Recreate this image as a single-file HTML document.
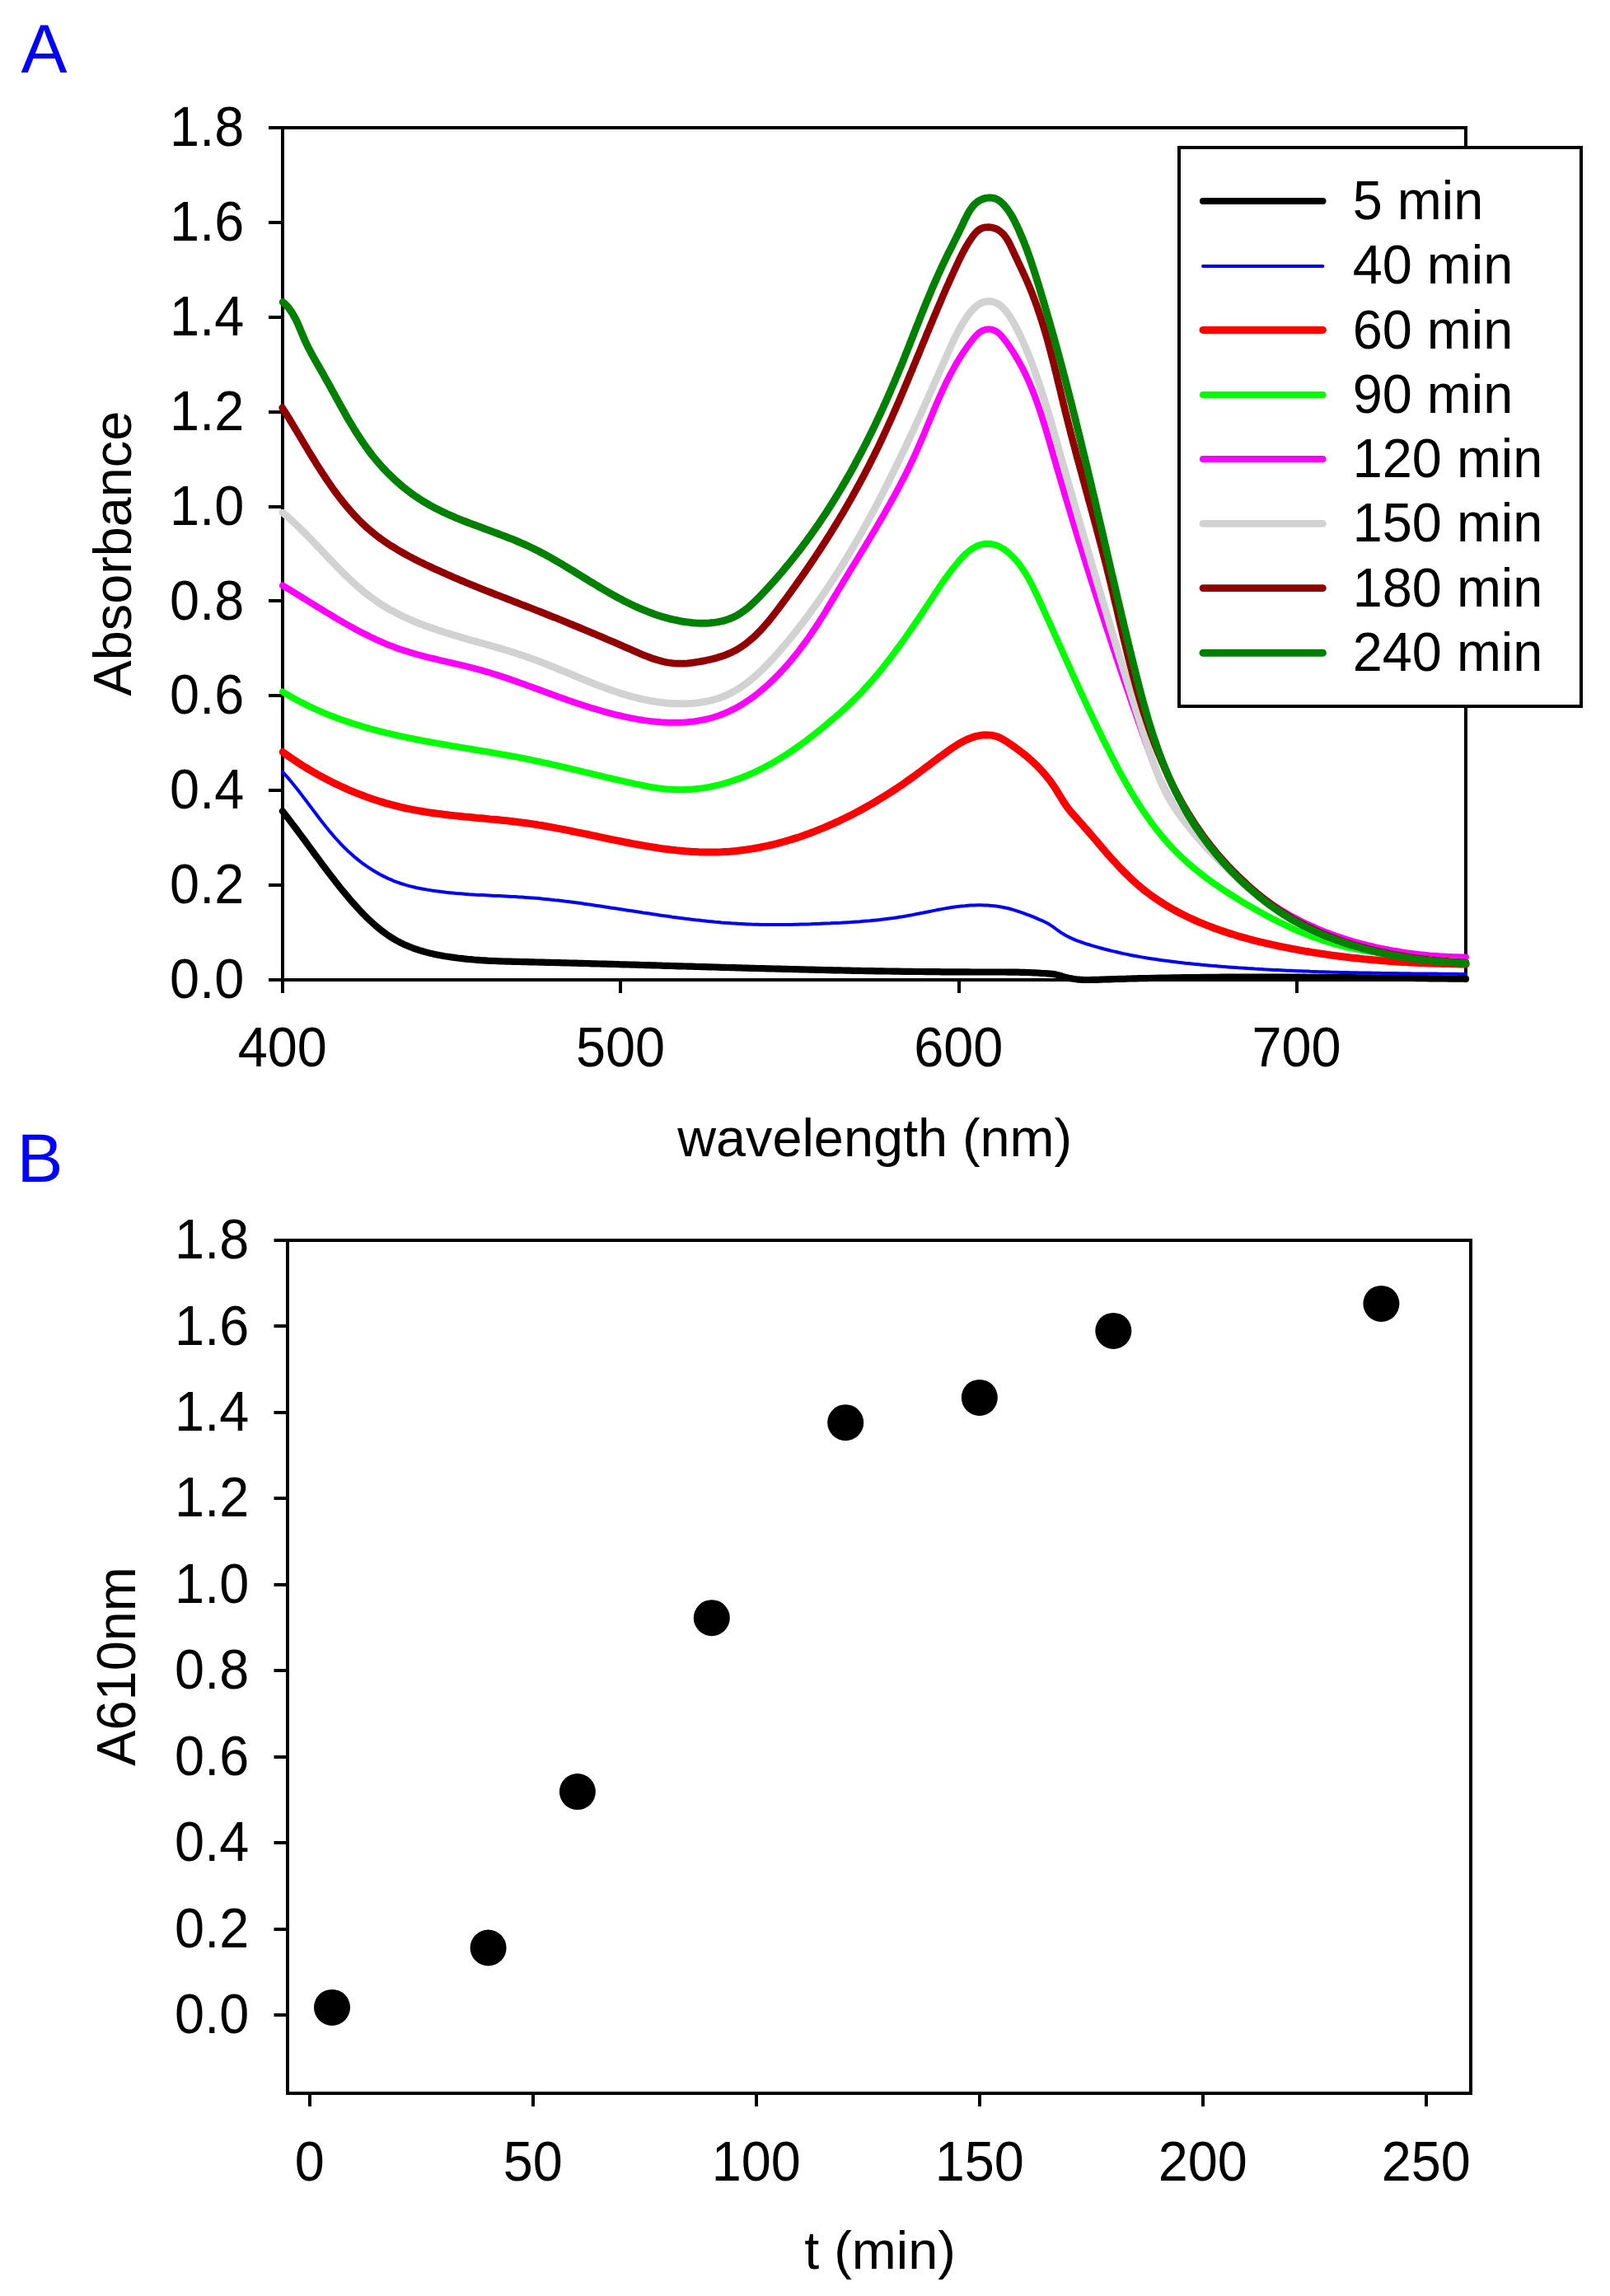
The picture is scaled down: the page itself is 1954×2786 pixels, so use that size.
<!DOCTYPE html>
<html lang="en"><head><meta charset="utf-8"><title>Figure</title>
<style>html,body{margin:0;padding:0;background:#fff}svg{display:block}</style></head>
<body>
<svg width="1954" height="2786" viewBox="0 0 1954 2786" font-family='&quot;Liberation Sans&quot;, sans-serif' font-size="64.8" fill="#000">
<rect width="1954" height="2786" fill="#fff"/>
<text x="25.6" y="87.8" font-size="84" fill="#0000ff">A</text>
<g stroke="#000" stroke-width="4" fill="none" stroke-linecap="butt">
<rect x="343" y="155" width="1436" height="1034"/>
<line x1="326" y1="1189" x2="343" y2="1189"/>
<line x1="326" y1="1074" x2="343" y2="1074"/>
<line x1="326" y1="959" x2="343" y2="959"/>
<line x1="326" y1="844" x2="343" y2="844"/>
<line x1="326" y1="729" x2="343" y2="729"/>
<line x1="326" y1="615" x2="343" y2="615"/>
<line x1="326" y1="500" x2="343" y2="500"/>
<line x1="326" y1="385" x2="343" y2="385"/>
<line x1="326" y1="270" x2="343" y2="270"/>
<line x1="326" y1="155" x2="343" y2="155"/>
<line x1="343" y1="1189" x2="343" y2="1205"/>
<line x1="753" y1="1189" x2="753" y2="1205"/>
<line x1="1164" y1="1189" x2="1164" y2="1205"/>
<line x1="1574" y1="1189" x2="1574" y2="1205"/>
</g>
<text transform="translate(296.2 1211.1) scale(1 1.045)" text-anchor="end">0.0</text>
<text transform="translate(296.2 1096.2) scale(1 1.045)" text-anchor="end">0.2</text>
<text transform="translate(296.2 981.3) scale(1 1.045)" text-anchor="end">0.4</text>
<text transform="translate(296.2 866.4) scale(1 1.045)" text-anchor="end">0.6</text>
<text transform="translate(296.2 751.5) scale(1 1.045)" text-anchor="end">0.8</text>
<text transform="translate(296.2 636.7) scale(1 1.045)" text-anchor="end">1.0</text>
<text transform="translate(296.2 521.8) scale(1 1.045)" text-anchor="end">1.2</text>
<text transform="translate(296.2 406.9) scale(1 1.045)" text-anchor="end">1.4</text>
<text transform="translate(296.2 292.0) scale(1 1.045)" text-anchor="end">1.6</text>
<text transform="translate(296.2 177.1) scale(1 1.045)" text-anchor="end">1.8</text>
<text transform="translate(342.7 1293.8) scale(1 1.045)" text-anchor="middle">400</text>
<text transform="translate(753.0 1293.8) scale(1 1.045)" text-anchor="middle">500</text>
<text transform="translate(1163.3 1293.8) scale(1 1.045)" text-anchor="middle">600</text>
<text transform="translate(1573.6 1293.8) scale(1 1.045)" text-anchor="middle">700</text>
<text x="1061.7" y="1402.6" text-anchor="middle">wavelength (nm)</text>
<text transform="translate(158.5 671.6) rotate(-90)" text-anchor="middle">Absorbance</text>
<g fill="none" stroke-linecap="round" stroke-linejoin="round">
<path stroke="#000000" stroke-width="8.2" d="M342.9 984.2L345.3 987.4L347.8 990.5L350.3 993.7L352.7 996.9L355.1 1000.1L357.5 1003.3L359.9 1006.5L362.3 1009.7L364.7 1012.9L367.1 1016.1L369.5 1019.3L371.8 1022.5L374.2 1025.8L376.6 1029.0L378.9 1032.2L381.3 1035.5L383.7 1038.7L386.1 1041.9L388.5 1045.1L390.8 1048.3L393.2 1051.5L395.6 1054.7L398.1 1057.9L400.5 1061.1L402.9 1064.3L405.4 1067.4L407.8 1070.6L410.3 1073.7L412.8 1076.9L415.3 1080.0L417.9 1083.1L420.4 1086.1L423.0 1089.2L425.6 1092.3L428.2 1095.3L430.9 1098.3L433.6 1101.3L436.3 1104.2L439.0 1107.1L441.8 1110.0L444.6 1112.8L447.5 1115.6L450.4 1118.3L453.4 1121.0L456.4 1123.7L459.5 1126.2L462.6 1128.7L465.8 1131.2L469.0 1133.5L472.3 1135.8L475.7 1138.0L479.1 1140.1L482.6 1142.0L486.1 1143.9L489.7 1145.7L493.4 1147.3L497.0 1148.8L500.8 1150.3L504.6 1151.6L508.4 1152.9L512.2 1154.0L516.0 1155.1L519.9 1156.1L523.8 1157.1L527.7 1157.9L531.6 1158.7L535.6 1159.5L539.5 1160.2L543.5 1160.8L547.4 1161.4L551.4 1161.9L555.4 1162.5L559.3 1162.9L563.3 1163.4L567.3 1163.8L571.3 1164.1L575.3 1164.5L579.3 1164.8L583.2 1165.1L587.2 1165.3L591.2 1165.6L595.2 1165.8L599.2 1166.0L603.2 1166.2L607.2 1166.3L611.2 1166.5L615.2 1166.6L619.2 1166.7L623.2 1166.8L627.2 1166.9L631.2 1167.0L635.2 1167.1L639.2 1167.2L643.2 1167.3L647.2 1167.4L651.2 1167.5L655.2 1167.6L659.3 1167.7L663.3 1167.8L667.3 1167.9L671.3 1168.0L675.3 1168.1L679.3 1168.2L683.3 1168.3L687.3 1168.4L691.3 1168.5L695.3 1168.6L699.3 1168.7L703.3 1168.8L707.3 1168.9L711.3 1169.0L715.3 1169.1L719.3 1169.3L723.3 1169.4L727.3 1169.5L731.3 1169.6L735.3 1169.7L739.3 1169.8L743.3 1169.9L747.3 1170.0L751.3 1170.2L755.3 1170.3L759.3 1170.4L763.3 1170.5L767.3 1170.6L771.3 1170.7L775.3 1170.8L779.3 1171.0L783.3 1171.1L787.3 1171.2L791.3 1171.3L795.3 1171.4L799.3 1171.5L803.3 1171.7L807.3 1171.8L811.3 1171.9L815.3 1172.0L819.3 1172.1L823.3 1172.3L827.3 1172.4L831.3 1172.5L835.3 1172.6L839.3 1172.7L843.3 1172.8L847.3 1173.0L851.3 1173.1L855.3 1173.2L859.3 1173.3L863.3 1173.4L867.3 1173.5L871.3 1173.6L875.3 1173.8L879.3 1173.9L883.3 1174.0L887.3 1174.1L891.3 1174.2L895.3 1174.3L899.3 1174.4L903.3 1174.6L907.3 1174.7L911.3 1174.8L915.3 1174.9L919.3 1175.0L923.3 1175.1L927.3 1175.2L931.3 1175.3L935.3 1175.4L939.3 1175.5L943.3 1175.6L947.3 1175.7L951.3 1175.8L955.3 1175.9L959.3 1176.0L963.3 1176.1L967.4 1176.2L971.4 1176.3L975.4 1176.4L979.4 1176.5L983.4 1176.6L987.4 1176.7L991.4 1176.8L995.4 1176.9L999.4 1177.0L1003.4 1177.1L1007.4 1177.2L1011.4 1177.3L1015.4 1177.3L1019.4 1177.4L1023.4 1177.5L1027.4 1177.6L1031.4 1177.7L1035.4 1177.8L1039.4 1177.8L1043.4 1177.9L1047.4 1178.0L1051.4 1178.1L1055.4 1178.1L1059.4 1178.2L1063.4 1178.3L1067.4 1178.3L1071.4 1178.4L1075.4 1178.5L1079.4 1178.5L1083.4 1178.6L1087.4 1178.6L1091.4 1178.7L1095.4 1178.8L1099.4 1178.8L1103.4 1178.9L1107.4 1178.9L1111.4 1179.0L1115.4 1179.0L1119.4 1179.0L1123.4 1179.1L1127.4 1179.1L1131.4 1179.2L1135.4 1179.2L1139.4 1179.2L1143.4 1179.3L1147.4 1179.3L1151.5 1179.3L1155.5 1179.4L1159.5 1179.4L1163.5 1179.4L1167.5 1179.4L1171.5 1179.4L1175.5 1179.4L1179.5 1179.5L1183.5 1179.5L1187.5 1179.5L1191.5 1179.5L1195.5 1179.5L1199.5 1179.5L1203.5 1179.5L1207.5 1179.5L1211.5 1179.5L1215.5 1179.5L1219.5 1179.5L1223.5 1179.6L1227.5 1179.6L1231.5 1179.7L1235.5 1179.7L1239.5 1179.8L1243.5 1179.9L1247.5 1180.0L1251.5 1180.2L1255.5 1180.3L1259.5 1180.5L1263.5 1180.8L1267.5 1181.0L1271.5 1181.3L1275.5 1181.6L1279.5 1182.1L1283.4 1183.0L1287.2 1184.0L1291.1 1185.1L1295.0 1186.1L1298.8 1187.1L1302.8 1187.8L1306.8 1188.3L1310.7 1188.7L1314.7 1188.9L1318.7 1189.0L1322.7 1189.0L1326.7 1188.9L1330.7 1188.8L1334.7 1188.7L1338.7 1188.5L1342.7 1188.4L1346.7 1188.3L1350.7 1188.1L1354.7 1188.0L1358.7 1187.9L1362.7 1187.8L1366.7 1187.7L1370.8 1187.5L1374.8 1187.4L1378.8 1187.3L1382.8 1187.2L1386.8 1187.1L1390.8 1187.1L1394.8 1187.0L1398.8 1186.9L1402.8 1186.8L1406.8 1186.7L1410.8 1186.6L1414.8 1186.6L1418.8 1186.5L1422.8 1186.4L1426.8 1186.4L1430.8 1186.3L1434.8 1186.2L1438.8 1186.2L1442.8 1186.1L1446.8 1186.1L1450.8 1186.0L1454.8 1186.0L1458.8 1185.9L1462.8 1185.9L1466.8 1185.9L1470.8 1185.8L1474.8 1185.8L1478.8 1185.8L1482.8 1185.7L1486.8 1185.7L1490.8 1185.7L1494.8 1185.7L1498.8 1185.7L1502.8 1185.6L1506.8 1185.6L1510.8 1185.6L1514.8 1185.6L1518.8 1185.6L1522.8 1185.6L1526.8 1185.6L1530.8 1185.6L1534.8 1185.6L1538.9 1185.6L1542.9 1185.6L1546.9 1185.6L1550.9 1185.6L1554.9 1185.6L1558.9 1185.6L1562.9 1185.7L1566.9 1185.7L1570.9 1185.7L1574.9 1185.7L1578.9 1185.7L1582.9 1185.7L1586.9 1185.8L1590.9 1185.8L1594.9 1185.8L1598.9 1185.8L1602.9 1185.9L1606.9 1185.9L1610.9 1185.9L1614.9 1186.0L1618.9 1186.0L1622.9 1186.0L1626.9 1186.1L1630.9 1186.1L1634.9 1186.1L1638.9 1186.2L1642.9 1186.2L1646.9 1186.3L1650.9 1186.3L1654.9 1186.3L1658.9 1186.4L1662.9 1186.4L1666.9 1186.5L1670.9 1186.5L1674.9 1186.5L1678.9 1186.6L1683.0 1186.6L1687.0 1186.7L1691.0 1186.7L1695.0 1186.8L1699.0 1186.8L1703.0 1186.9L1707.0 1186.9L1711.0 1187.0L1715.0 1187.0L1719.0 1187.1L1723.0 1187.1L1727.0 1187.2L1731.0 1187.2L1735.0 1187.3L1739.0 1187.3L1743.0 1187.4L1747.0 1187.4L1751.0 1187.5L1755.0 1187.5L1759.0 1187.6L1763.0 1187.6L1767.0 1187.7L1771.0 1187.7L1775.0 1187.7L1779.0 1187.8"/>
<path stroke="#0000ff" stroke-width="4" d="M343.0 936.6L345.7 939.6L348.4 942.6L351.0 945.6L353.6 948.7L356.1 951.8L358.6 954.9L361.1 958.1L363.6 961.2L366.0 964.4L368.4 967.6L370.9 970.8L373.3 974.0L375.7 977.2L378.1 980.4L380.5 983.6L382.9 986.8L385.3 990.0L387.8 993.2L390.2 996.4L392.7 999.5L395.2 1002.7L397.7 1005.8L400.2 1008.9L402.8 1011.9L405.4 1015.0L408.1 1018.0L410.8 1020.9L413.5 1023.9L416.3 1026.8L419.1 1029.6L422.0 1032.4L425.0 1035.1L428.0 1037.8L431.0 1040.4L434.1 1042.9L437.2 1045.4L440.4 1047.8L443.7 1050.2L447.0 1052.4L450.4 1054.6L453.8 1056.8L457.2 1058.8L460.7 1060.8L464.2 1062.6L467.8 1064.4L471.4 1066.1L475.1 1067.7L478.8 1069.3L482.6 1070.7L486.4 1072.0L490.2 1073.2L494.0 1074.3L497.9 1075.4L501.8 1076.3L505.7 1077.2L509.6 1078.0L513.6 1078.7L517.5 1079.4L521.5 1080.1L525.4 1080.7L529.4 1081.3L533.4 1081.8L537.4 1082.3L541.3 1082.8L545.3 1083.2L549.3 1083.6L553.3 1084.0L557.3 1084.3L561.3 1084.6L565.3 1084.9L569.3 1085.2L573.3 1085.4L577.3 1085.7L581.3 1085.9L585.3 1086.1L589.3 1086.3L593.3 1086.5L597.3 1086.7L601.3 1086.9L605.3 1087.1L609.3 1087.3L613.3 1087.5L617.3 1087.7L621.3 1087.9L625.3 1088.1L629.3 1088.4L633.3 1088.6L637.3 1088.9L641.3 1089.2L645.3 1089.5L649.3 1089.8L653.3 1090.1L657.3 1090.5L661.3 1090.9L665.3 1091.3L669.3 1091.7L673.3 1092.2L677.2 1092.6L681.2 1093.1L685.2 1093.6L689.2 1094.0L693.2 1094.6L697.1 1095.1L701.1 1095.6L705.1 1096.1L709.1 1096.7L713.0 1097.3L717.0 1097.8L721.0 1098.4L724.9 1099.0L728.9 1099.6L732.9 1100.2L736.8 1100.8L740.8 1101.4L744.7 1102.0L748.7 1102.6L752.7 1103.2L756.6 1103.8L760.6 1104.4L764.6 1105.0L768.5 1105.6L772.5 1106.2L776.4 1106.8L780.4 1107.5L784.4 1108.1L788.3 1108.6L792.3 1109.2L796.3 1109.8L800.2 1110.4L804.2 1111.0L808.2 1111.5L812.1 1112.1L816.1 1112.7L820.1 1113.2L824.0 1113.7L828.0 1114.2L832.0 1114.7L836.0 1115.2L840.0 1115.7L843.9 1116.2L847.9 1116.6L851.9 1117.1L855.9 1117.5L859.9 1117.9L863.9 1118.3L867.9 1118.7L871.9 1119.0L875.8 1119.4L879.8 1119.7L883.8 1120.0L887.8 1120.3L891.8 1120.5L895.8 1120.8L899.8 1121.0L903.8 1121.2L907.8 1121.4L911.9 1121.6L915.9 1121.7L919.9 1121.8L923.9 1121.9L927.9 1122.0L931.9 1122.0L935.9 1122.1L939.9 1122.1L943.9 1122.1L947.9 1122.1L951.9 1122.0L955.9 1122.0L959.9 1121.9L964.0 1121.8L968.0 1121.8L972.0 1121.6L976.0 1121.5L980.0 1121.4L984.0 1121.3L988.0 1121.1L992.0 1121.0L996.0 1120.8L1000.0 1120.6L1004.0 1120.4L1008.0 1120.3L1012.0 1120.1L1016.0 1119.9L1020.0 1119.7L1024.0 1119.4L1028.0 1119.2L1032.0 1119.0L1036.0 1118.7L1040.0 1118.4L1044.0 1118.2L1048.0 1117.8L1052.0 1117.5L1056.0 1117.2L1060.0 1116.8L1064.0 1116.4L1068.0 1116.0L1072.0 1115.5L1075.9 1115.0L1079.9 1114.5L1083.9 1114.0L1087.9 1113.4L1091.8 1112.8L1095.8 1112.2L1099.7 1111.5L1103.7 1110.8L1107.6 1110.1L1111.6 1109.3L1115.5 1108.5L1119.4 1107.8L1123.3 1107.0L1127.3 1106.2L1131.2 1105.4L1135.1 1104.6L1139.1 1103.8L1143.0 1103.1L1147.0 1102.4L1150.9 1101.7L1154.9 1101.1L1158.8 1100.5L1162.8 1100.0L1166.8 1099.5L1170.8 1099.2L1174.8 1098.8L1178.8 1098.6L1182.8 1098.4L1186.8 1098.3L1190.8 1098.3L1194.8 1098.4L1198.8 1098.6L1202.8 1098.9L1206.8 1099.3L1210.8 1099.8L1214.7 1100.4L1218.7 1101.2L1222.6 1102.0L1226.5 1103.0L1230.3 1104.1L1234.2 1105.3L1238.0 1106.6L1241.8 1107.9L1245.5 1109.3L1249.2 1110.7L1253.0 1112.2L1256.7 1113.7L1260.4 1115.3L1264.1 1116.8L1267.7 1118.5L1271.3 1120.3L1274.7 1122.4L1278.1 1124.6L1281.3 1127.0L1284.5 1129.3L1287.8 1131.6L1291.2 1133.8L1294.7 1135.7L1298.3 1137.6L1301.9 1139.2L1305.6 1140.8L1309.4 1142.2L1313.2 1143.5L1317.0 1144.8L1320.8 1146.0L1324.6 1147.2L1328.5 1148.3L1332.3 1149.4L1336.2 1150.5L1340.0 1151.5L1343.9 1152.5L1347.8 1153.5L1351.7 1154.4L1355.6 1155.3L1359.5 1156.2L1363.4 1157.1L1367.4 1157.9L1371.3 1158.7L1375.2 1159.5L1379.2 1160.2L1383.1 1160.9L1387.1 1161.6L1391.0 1162.3L1395.0 1162.9L1398.9 1163.5L1402.9 1164.1L1406.9 1164.7L1410.8 1165.3L1414.8 1165.8L1418.8 1166.3L1422.7 1166.8L1426.7 1167.3L1430.7 1167.8L1434.7 1168.2L1438.7 1168.7L1442.7 1169.1L1446.6 1169.5L1450.6 1169.9L1454.6 1170.3L1458.6 1170.7L1462.6 1171.1L1466.6 1171.4L1470.6 1171.8L1474.6 1172.1L1478.6 1172.4L1482.6 1172.8L1486.6 1173.1L1490.6 1173.4L1494.6 1173.7L1498.6 1174.0L1502.6 1174.3L1506.6 1174.5L1510.6 1174.8L1514.6 1175.1L1518.6 1175.3L1522.6 1175.6L1526.6 1175.8L1530.6 1176.0L1534.6 1176.3L1538.6 1176.5L1542.6 1176.7L1546.6 1176.9L1550.6 1177.1L1554.6 1177.3L1558.6 1177.5L1562.6 1177.7L1566.6 1177.8L1570.6 1178.0L1574.6 1178.2L1578.6 1178.3L1582.6 1178.5L1586.6 1178.6L1590.6 1178.8L1594.6 1178.9L1598.6 1179.1L1602.7 1179.2L1606.7 1179.3L1610.7 1179.4L1614.7 1179.6L1618.7 1179.7L1622.7 1179.8L1626.7 1179.9L1630.7 1180.0L1634.7 1180.1L1638.7 1180.2L1642.7 1180.2L1646.7 1180.3L1650.7 1180.4L1654.7 1180.5L1658.8 1180.6L1662.8 1180.6L1666.8 1180.7L1670.8 1180.8L1674.8 1180.8L1678.8 1180.9L1682.8 1181.0L1686.8 1181.0L1690.8 1181.1L1694.8 1181.1L1698.8 1181.2L1702.8 1181.2L1706.9 1181.3L1710.9 1181.3L1714.9 1181.4L1718.9 1181.4L1722.9 1181.4L1726.9 1181.5L1730.9 1181.5L1734.9 1181.6L1738.9 1181.6L1742.9 1181.6L1746.9 1181.7L1750.9 1181.7L1755.0 1181.7L1759.0 1181.8L1763.0 1181.8L1767.0 1181.8L1771.0 1181.9L1775.0 1181.9L1779.0 1182.0"/>
<path stroke="#ff0000" stroke-width="9" d="M343.2 912.5L346.4 914.9L349.7 917.2L352.9 919.5L356.3 921.7L359.6 924.0L362.9 926.2L366.3 928.3L369.7 930.5L373.1 932.5L376.6 934.6L380.0 936.6L383.5 938.6L387.0 940.6L390.5 942.5L394.0 944.4L397.6 946.3L401.2 948.1L404.7 949.9L408.4 951.6L412.0 953.3L415.6 955.0L419.3 956.7L422.9 958.3L426.6 959.8L430.3 961.4L434.0 962.9L437.8 964.3L441.5 965.7L445.3 967.1L449.1 968.5L452.8 969.8L456.6 971.0L460.5 972.2L464.3 973.4L468.1 974.6L472.0 975.7L475.8 976.7L479.7 977.7L483.6 978.7L487.5 979.6L491.4 980.5L495.3 981.3L499.3 982.1L503.2 982.9L507.1 983.6L511.1 984.3L515.0 985.0L519.0 985.6L523.0 986.2L526.9 986.7L530.9 987.3L534.9 987.8L538.8 988.3L542.8 988.7L546.8 989.2L550.8 989.6L554.8 990.1L558.8 990.5L562.8 990.9L566.7 991.2L570.7 991.6L574.7 992.0L578.7 992.4L582.7 992.7L586.7 993.1L590.7 993.5L594.7 993.9L598.7 994.2L602.6 994.6L606.6 995.0L610.6 995.4L614.6 995.8L618.6 996.3L622.6 996.7L626.5 997.2L630.5 997.7L634.5 998.2L638.5 998.8L642.4 999.3L646.4 999.9L650.4 1000.5L654.3 1001.1L658.3 1001.8L662.2 1002.5L666.2 1003.2L670.1 1003.9L674.0 1004.6L678.0 1005.4L681.9 1006.1L685.8 1006.9L689.8 1007.7L693.7 1008.5L697.6 1009.3L701.5 1010.1L705.5 1010.9L709.4 1011.7L713.3 1012.5L717.2 1013.4L721.2 1014.2L725.1 1015.0L729.0 1015.8L732.9 1016.7L736.8 1017.5L740.8 1018.3L744.7 1019.1L748.6 1019.9L752.5 1020.7L756.5 1021.5L760.4 1022.3L764.3 1023.0L768.3 1023.8L772.2 1024.5L776.2 1025.2L780.1 1025.9L784.0 1026.6L788.0 1027.3L792.0 1027.9L795.9 1028.5L799.9 1029.1L803.8 1029.7L807.8 1030.2L811.8 1030.7L815.8 1031.2L819.7 1031.6L823.7 1032.1L827.7 1032.4L831.7 1032.8L835.7 1033.1L839.7 1033.4L843.7 1033.6L847.7 1033.8L851.7 1033.9L855.7 1034.0L859.7 1034.1L863.7 1034.1L867.7 1034.0L871.7 1033.9L875.7 1033.8L879.7 1033.6L883.7 1033.4L887.7 1033.1L891.7 1032.7L895.7 1032.3L899.7 1031.8L903.7 1031.3L907.6 1030.8L911.6 1030.1L915.5 1029.5L919.5 1028.8L923.4 1028.0L927.4 1027.2L931.3 1026.4L935.2 1025.5L939.1 1024.6L943.0 1023.6L946.8 1022.6L950.7 1021.5L954.6 1020.4L958.4 1019.3L962.2 1018.1L966.0 1016.9L969.9 1015.7L973.6 1014.4L977.4 1013.0L981.2 1011.7L985.0 1010.3L988.7 1008.9L992.4 1007.4L996.1 1005.9L999.9 1004.4L1003.5 1002.8L1007.2 1001.2L1010.9 999.6L1014.5 997.9L1018.2 996.3L1021.8 994.5L1025.4 992.8L1029.0 991.0L1032.6 989.2L1036.1 987.4L1039.7 985.5L1043.2 983.7L1046.7 981.8L1050.3 979.8L1053.7 977.9L1057.2 975.9L1060.7 973.9L1064.1 971.8L1067.6 969.7L1071.0 967.7L1074.4 965.5L1077.8 963.4L1081.2 961.2L1084.5 959.1L1087.9 956.9L1091.2 954.6L1094.5 952.4L1097.8 950.1L1101.1 947.8L1104.3 945.5L1107.6 943.1L1110.8 940.8L1114.1 938.4L1117.3 936.0L1120.5 933.6L1123.7 931.2L1126.9 928.8L1130.1 926.4L1133.3 924.0L1136.5 921.6L1139.7 919.2L1143.0 916.8L1146.2 914.5L1149.4 912.1L1152.7 909.8L1156.0 907.5L1159.4 905.3L1162.7 903.2L1166.2 901.2L1169.7 899.3L1173.3 897.5L1177.0 895.9L1180.8 894.6L1184.6 893.4L1188.5 892.6L1192.5 892.0L1196.5 891.8L1200.5 891.9L1204.5 892.4L1208.4 893.3L1212.2 894.6L1215.8 896.3L1219.2 898.3L1222.6 900.5L1225.9 902.7L1229.2 905.0L1232.5 907.3L1235.7 909.7L1238.9 912.1L1242.1 914.6L1245.2 917.1L1248.3 919.7L1251.3 922.3L1254.2 925.0L1257.1 927.8L1260.0 930.6L1262.7 933.5L1265.4 936.5L1268.1 939.5L1270.6 942.6L1273.1 945.7L1275.5 948.9L1277.8 952.2L1280.1 955.5L1282.2 958.9L1284.3 962.3L1286.4 965.7L1288.5 969.2L1290.6 972.5L1292.8 975.9L1295.1 979.2L1297.5 982.4L1300.0 985.5L1302.7 988.5L1305.4 991.5L1308.1 994.5L1310.7 997.4L1313.4 1000.4L1316.0 1003.5L1318.7 1006.5L1321.3 1009.5L1323.9 1012.6L1326.5 1015.6L1329.1 1018.6L1331.7 1021.7L1334.3 1024.7L1336.9 1027.8L1339.5 1030.8L1342.1 1033.9L1344.8 1036.9L1347.4 1039.9L1350.1 1042.9L1352.8 1045.8L1355.5 1048.8L1358.2 1051.7L1361.0 1054.6L1363.8 1057.5L1366.6 1060.3L1369.5 1063.1L1372.3 1065.9L1375.3 1068.6L1378.3 1071.3L1381.3 1074.0L1384.3 1076.5L1387.4 1079.1L1390.6 1081.6L1393.8 1084.0L1397.0 1086.4L1400.3 1088.7L1403.6 1091.0L1406.9 1093.2L1410.3 1095.4L1413.6 1097.5L1417.1 1099.6L1420.5 1101.6L1424.0 1103.6L1427.5 1105.5L1431.1 1107.4L1434.6 1109.2L1438.2 1111.0L1441.8 1112.8L1445.4 1114.5L1449.1 1116.2L1452.7 1117.8L1456.4 1119.4L1460.1 1120.9L1463.8 1122.4L1467.6 1123.9L1471.3 1125.3L1475.1 1126.7L1478.8 1128.0L1482.6 1129.4L1486.4 1130.6L1490.2 1131.9L1494.0 1133.1L1497.9 1134.3L1501.7 1135.5L1505.5 1136.6L1509.4 1137.7L1513.3 1138.7L1517.1 1139.8L1521.0 1140.8L1524.9 1141.8L1528.8 1142.8L1532.7 1143.7L1536.6 1144.6L1540.5 1145.5L1544.4 1146.4L1548.3 1147.2L1552.2 1148.1L1556.1 1148.9L1560.1 1149.7L1564.0 1150.4L1567.9 1151.2L1571.9 1151.9L1575.8 1152.7L1579.8 1153.4L1583.7 1154.1L1587.7 1154.7L1591.6 1155.4L1595.6 1156.0L1599.5 1156.6L1603.5 1157.3L1607.4 1157.8L1611.4 1158.4L1615.4 1159.0L1619.4 1159.5L1623.3 1160.0L1627.3 1160.5L1631.3 1161.0L1635.3 1161.5L1639.2 1162.0L1643.2 1162.4L1647.2 1162.8L1651.2 1163.3L1655.2 1163.7L1659.2 1164.0L1663.1 1164.4L1667.1 1164.8L1671.1 1165.1L1675.1 1165.5L1679.1 1165.8L1683.1 1166.1L1687.1 1166.4L1691.1 1166.6L1695.1 1166.9L1699.1 1167.2L1703.1 1167.4L1707.1 1167.6L1711.1 1167.9L1715.1 1168.1L1719.1 1168.3L1723.1 1168.4L1727.1 1168.6L1731.1 1168.8L1735.1 1168.9L1739.1 1169.1L1743.1 1169.2L1747.1 1169.3L1751.1 1169.4L1755.1 1169.5L1759.1 1169.6L1763.2 1169.7L1767.2 1169.8L1771.2 1169.9L1775.2 1169.9L1779.2 1170.0"/>
<path stroke="#00ff00" stroke-width="8" d="M343.0 839.4L346.5 841.5L349.9 843.5L353.4 845.5L356.9 847.5L360.4 849.4L363.9 851.3L367.5 853.1L371.0 854.9L374.6 856.7L378.2 858.4L381.9 860.1L385.5 861.7L389.2 863.3L392.9 864.9L396.6 866.4L400.3 867.9L404.0 869.3L407.7 870.8L411.5 872.2L415.3 873.5L419.0 874.8L422.8 876.1L426.6 877.4L430.4 878.6L434.3 879.8L438.1 880.9L441.9 882.1L445.8 883.2L449.6 884.3L453.5 885.3L457.3 886.3L461.2 887.3L465.1 888.3L469.0 889.3L472.9 890.2L476.8 891.1L480.7 892.0L484.6 892.9L488.5 893.7L492.4 894.6L496.3 895.4L500.2 896.2L504.2 897.0L508.1 897.7L512.0 898.5L515.9 899.2L519.9 900.0L523.8 900.7L527.7 901.4L531.7 902.1L535.6 902.8L539.6 903.5L543.5 904.2L547.4 904.9L551.4 905.5L555.3 906.2L559.3 906.9L563.2 907.5L567.2 908.2L571.1 908.8L575.1 909.5L579.0 910.2L583.0 910.8L586.9 911.5L590.9 912.1L594.8 912.8L598.7 913.5L602.7 914.2L606.6 914.9L610.6 915.6L614.5 916.3L618.4 917.0L622.4 917.7L626.3 918.4L630.2 919.2L634.2 919.9L638.1 920.7L642.0 921.5L645.9 922.3L649.8 923.1L653.8 924.0L657.7 924.8L661.6 925.7L665.5 926.5L669.4 927.4L673.3 928.3L677.2 929.2L681.1 930.1L685.0 931.0L688.9 931.9L692.8 932.8L696.7 933.8L700.6 934.7L704.4 935.6L708.3 936.5L712.2 937.5L716.1 938.4L720.0 939.4L723.9 940.3L727.8 941.2L731.7 942.1L735.6 943.1L739.5 944.0L743.4 944.9L747.3 945.8L751.2 946.7L755.1 947.6L759.0 948.5L762.9 949.4L766.8 950.2L770.7 951.1L774.6 951.9L778.5 952.7L782.4 953.5L786.4 954.3L790.3 955.0L794.2 955.6L798.2 956.2L802.2 956.7L806.1 957.2L810.1 957.6L814.1 957.9L818.1 958.1L822.1 958.3L826.1 958.3L830.1 958.3L834.1 958.1L838.1 957.9L842.1 957.5L846.1 957.1L850.0 956.6L854.0 956.1L857.9 955.4L861.9 954.7L865.8 953.9L869.7 953.0L873.6 952.0L877.4 951.0L881.3 949.9L885.1 948.8L888.9 947.5L892.7 946.2L896.5 944.9L900.2 943.5L904.0 942.0L907.7 940.5L911.3 938.9L915.0 937.3L918.6 935.6L922.2 933.8L925.8 932.0L929.3 930.2L932.9 928.3L936.4 926.4L939.8 924.4L943.3 922.4L946.7 920.3L950.1 918.2L953.5 916.1L956.8 913.9L960.2 911.7L963.5 909.4L966.8 907.1L970.0 904.8L973.3 902.5L976.5 900.1L979.7 897.7L982.9 895.3L986.1 892.8L989.2 890.4L992.3 887.9L995.5 885.4L998.6 882.9L1001.7 880.3L1004.7 877.7L1007.8 875.2L1010.8 872.6L1013.9 870.0L1016.9 867.3L1019.9 864.7L1022.8 862.0L1025.8 859.3L1028.7 856.6L1031.6 853.8L1034.5 851.0L1037.4 848.2L1040.2 845.4L1043.0 842.6L1045.8 839.7L1048.5 836.8L1051.2 833.8L1053.9 830.8L1056.6 827.9L1059.2 824.8L1061.8 821.8L1064.4 818.8L1066.9 815.7L1069.5 812.6L1072.0 809.5L1074.5 806.3L1076.9 803.2L1079.4 800.0L1081.8 796.9L1084.2 793.7L1086.6 790.5L1089.0 787.2L1091.4 784.0L1093.7 780.8L1096.1 777.5L1098.4 774.3L1100.7 771.0L1103.0 767.7L1105.3 764.4L1107.5 761.1L1109.8 757.8L1112.0 754.5L1114.3 751.2L1116.5 747.9L1118.7 744.6L1121.0 741.2L1123.2 737.9L1125.4 734.6L1127.6 731.2L1129.8 727.9L1132.0 724.6L1134.2 721.2L1136.4 717.9L1138.7 714.6L1140.9 711.2L1143.1 707.9L1145.4 704.7L1147.7 701.4L1150.1 698.2L1152.5 694.9L1154.9 691.8L1157.4 688.6L1159.9 685.5L1162.4 682.4L1165.0 679.4L1167.7 676.4L1170.5 673.5L1173.4 670.8L1176.5 668.2L1179.7 665.9L1183.1 663.8L1186.7 662.1L1190.5 660.9L1194.5 660.1L1198.5 659.8L1202.4 660.0L1206.4 660.8L1210.2 661.9L1213.8 663.6L1217.3 665.6L1220.6 667.9L1223.7 670.4L1226.6 673.1L1229.5 675.9L1232.2 678.8L1234.8 681.9L1237.3 685.0L1239.7 688.2L1241.9 691.5L1244.1 694.9L1246.2 698.3L1248.2 701.8L1250.1 705.3L1252.0 708.8L1253.8 712.4L1255.5 716.0L1257.3 719.6L1259.0 723.2L1260.6 726.9L1262.3 730.5L1264.0 734.1L1265.6 737.8L1267.3 741.4L1268.9 745.1L1270.6 748.7L1272.2 752.3L1273.9 756.0L1275.5 759.6L1277.2 763.3L1278.8 766.9L1280.5 770.6L1282.1 774.2L1283.7 777.9L1285.4 781.5L1287.0 785.2L1288.7 788.8L1290.3 792.5L1291.9 796.1L1293.6 799.8L1295.2 803.4L1296.9 807.1L1298.5 810.7L1300.1 814.4L1301.8 818.0L1303.4 821.7L1305.1 825.3L1306.8 828.9L1308.4 832.6L1310.1 836.2L1311.7 839.9L1313.4 843.5L1315.1 847.1L1316.8 850.8L1318.5 854.4L1320.1 858.0L1321.8 861.6L1323.5 865.3L1325.3 868.9L1327.0 872.5L1328.7 876.1L1330.4 879.7L1332.1 883.3L1333.9 886.9L1335.6 890.5L1337.4 894.1L1339.1 897.7L1340.9 901.3L1342.7 904.9L1344.5 908.5L1346.3 912.0L1348.1 915.6L1349.9 919.2L1351.7 922.7L1353.6 926.3L1355.4 929.8L1357.3 933.4L1359.2 936.9L1361.1 940.4L1363.1 943.9L1365.0 947.4L1367.0 950.9L1369.0 954.3L1371.0 957.8L1373.0 961.2L1375.1 964.7L1377.2 968.1L1379.3 971.5L1381.4 974.9L1383.6 978.2L1385.8 981.6L1388.0 984.9L1390.3 988.2L1392.6 991.5L1394.9 994.7L1397.2 998.0L1399.6 1001.2L1402.0 1004.4L1404.5 1007.5L1407.0 1010.7L1409.5 1013.8L1412.1 1016.8L1414.7 1019.9L1417.3 1022.9L1420.0 1025.8L1422.7 1028.8L1425.5 1031.7L1428.3 1034.5L1431.2 1037.3L1434.0 1040.1L1437.0 1042.8L1439.9 1045.5L1442.9 1048.2L1445.9 1050.8L1449.0 1053.4L1452.1 1055.9L1455.2 1058.4L1458.4 1060.9L1461.5 1063.3L1464.7 1065.7L1468.0 1068.1L1471.2 1070.4L1474.5 1072.7L1477.8 1075.0L1481.1 1077.3L1484.4 1079.5L1487.7 1081.7L1491.1 1083.9L1494.5 1086.0L1497.9 1088.1L1501.3 1090.2L1504.7 1092.3L1508.1 1094.4L1511.5 1096.5L1515.0 1098.5L1518.4 1100.5L1521.9 1102.5L1525.4 1104.5L1528.9 1106.4L1532.4 1108.4L1535.9 1110.3L1539.4 1112.2L1542.9 1114.0L1546.5 1115.9L1550.1 1117.7L1553.6 1119.5L1557.2 1121.2L1560.9 1122.9L1564.5 1124.6L1568.1 1126.3L1571.8 1127.9L1575.4 1129.5L1579.1 1131.1L1582.8 1132.6L1586.5 1134.1L1590.3 1135.5L1594.0 1137.0L1597.8 1138.3L1601.5 1139.6L1605.3 1140.9L1609.1 1142.2L1613.0 1143.3L1616.8 1144.5L1620.7 1145.6L1624.5 1146.6L1628.4 1147.6L1632.3 1148.6L1636.2 1149.5L1640.1 1150.3L1644.0 1151.2L1647.9 1151.9L1651.8 1152.7L1655.8 1153.4L1659.7 1154.1L1663.7 1154.7L1667.6 1155.3L1671.6 1155.9L1675.5 1156.5L1679.5 1157.0L1683.5 1157.6L1687.4 1158.0L1691.4 1158.5L1695.4 1159.0L1699.4 1159.4L1703.3 1159.9L1707.3 1160.3L1711.3 1160.7L1715.3 1161.1L1719.3 1161.5L1723.3 1161.8L1727.2 1162.2L1731.2 1162.6L1735.2 1163.0L1739.2 1163.4L1743.2 1163.7L1747.1 1164.1L1751.1 1164.5L1755.1 1164.9L1759.1 1165.3L1763.1 1165.7L1767.0 1166.2L1771.0 1166.6L1775.0 1167.1L1779.0 1167.6"/>
<path stroke="#ff00ff" stroke-width="8" d="M343.0 710.5L346.4 712.5L349.8 714.5L353.3 716.6L356.7 718.7L360.1 720.8L363.5 722.9L366.9 725.0L370.3 727.1L373.7 729.2L377.1 731.3L380.5 733.4L383.9 735.5L387.3 737.6L390.7 739.7L394.1 741.8L397.6 743.9L401.0 745.9L404.4 748.0L407.8 750.1L411.3 752.1L414.7 754.1L418.2 756.1L421.7 758.1L425.2 760.0L428.7 762.0L432.2 763.9L435.7 765.8L439.3 767.6L442.8 769.4L446.4 771.2L450.0 773.0L453.6 774.7L457.2 776.4L460.9 778.0L464.6 779.6L468.2 781.2L472.0 782.7L475.7 784.1L479.4 785.5L483.2 786.9L487.0 788.2L490.8 789.4L494.6 790.6L498.4 791.8L502.2 792.9L506.1 794.0L510.0 795.1L513.8 796.1L517.7 797.1L521.6 798.1L525.5 799.0L529.4 799.9L533.2 800.9L537.1 801.8L541.0 802.7L544.9 803.6L548.8 804.5L552.7 805.4L556.6 806.3L560.5 807.2L564.4 808.2L568.3 809.1L572.2 810.1L576.0 811.1L579.9 812.1L583.8 813.2L587.6 814.3L591.5 815.4L595.3 816.5L599.1 817.7L602.9 818.9L606.7 820.1L610.5 821.4L614.3 822.6L618.1 823.9L621.9 825.2L625.7 826.5L629.5 827.9L633.2 829.2L637.0 830.6L640.7 831.9L644.5 833.3L648.3 834.7L652.0 836.1L655.8 837.4L659.5 838.8L663.3 840.2L667.0 841.6L670.8 842.9L674.6 844.3L678.3 845.7L682.1 847.0L685.9 848.3L689.6 849.7L693.4 851.0L697.2 852.3L701.0 853.6L704.8 854.8L708.6 856.1L712.4 857.3L716.2 858.5L720.0 859.6L723.9 860.8L727.7 861.9L731.5 863.0L735.4 864.1L739.3 865.1L743.1 866.1L747.0 867.1L750.9 868.0L754.8 868.9L758.7 869.8L762.6 870.6L766.5 871.4L770.5 872.2L774.4 872.9L778.4 873.5L782.3 874.1L786.3 874.6L790.2 875.1L794.2 875.6L798.2 875.9L802.2 876.3L806.2 876.5L810.2 876.7L814.2 876.8L818.2 876.8L822.2 876.8L826.2 876.7L830.2 876.5L834.2 876.2L838.1 875.8L842.1 875.4L846.1 874.8L850.0 874.1L854.0 873.4L857.9 872.5L861.7 871.5L865.6 870.5L869.4 869.3L873.2 868.0L876.9 866.6L880.6 865.0L884.3 863.4L887.9 861.7L891.5 859.9L895.0 858.0L898.5 856.0L901.9 853.9L905.2 851.8L908.6 849.5L911.9 847.2L915.1 844.9L918.3 842.5L921.4 840.0L924.5 837.4L927.5 834.8L930.5 832.2L933.5 829.5L936.4 826.8L939.3 824.0L942.1 821.2L944.9 818.3L947.7 815.4L950.4 812.5L953.1 809.5L955.7 806.5L958.3 803.5L960.9 800.4L963.4 797.3L966.0 794.2L968.4 791.1L970.9 787.9L973.3 784.7L975.7 781.5L978.0 778.3L980.4 775.0L982.7 771.7L984.9 768.5L987.2 765.1L989.4 761.8L991.6 758.5L993.8 755.1L995.9 751.7L998.1 748.4L1000.2 745.0L1002.3 741.5L1004.3 738.1L1006.4 734.7L1008.4 731.3L1010.5 727.8L1012.5 724.4L1014.6 721.0L1016.6 717.5L1018.7 714.1L1020.8 710.7L1022.8 707.2L1024.9 703.8L1027.0 700.4L1029.1 697.0L1031.1 693.6L1033.2 690.2L1035.3 686.7L1037.4 683.3L1039.5 679.9L1041.6 676.5L1043.6 673.1L1045.7 669.7L1047.8 666.2L1049.9 662.8L1051.9 659.4L1054.0 656.0L1056.1 652.5L1058.1 649.1L1060.2 645.7L1062.2 642.2L1064.2 638.8L1066.3 635.3L1068.3 631.9L1070.3 628.4L1072.3 625.0L1074.3 621.5L1076.2 618.0L1078.2 614.5L1080.2 611.0L1082.1 607.5L1084.1 604.0L1086.0 600.5L1087.9 597.0L1089.8 593.5L1091.6 590.0L1093.5 586.4L1095.3 582.9L1097.2 579.3L1099.0 575.7L1100.8 572.2L1102.5 568.6L1104.3 565.0L1106.0 561.4L1107.7 557.8L1109.4 554.1L1111.1 550.5L1112.7 546.8L1114.3 543.2L1115.9 539.5L1117.5 535.8L1119.1 532.2L1120.6 528.5L1122.2 524.8L1123.7 521.1L1125.2 517.4L1126.8 513.7L1128.3 510.0L1129.8 506.3L1131.4 502.6L1132.9 498.9L1134.5 495.2L1136.0 491.5L1137.6 487.9L1139.2 484.2L1140.8 480.5L1142.5 476.9L1144.1 473.3L1145.8 469.6L1147.5 466.0L1149.3 462.4L1151.1 458.9L1152.9 455.3L1154.8 451.8L1156.7 448.3L1158.6 444.8L1160.6 441.3L1162.7 437.9L1164.8 434.4L1166.9 431.1L1169.1 427.7L1171.4 424.4L1173.7 421.1L1176.0 417.9L1178.4 414.7L1180.9 411.6L1183.4 408.5L1186.2 405.6L1189.2 403.0L1192.7 401.0L1196.5 399.7L1200.5 399.4L1204.4 400.0L1208.1 401.4L1211.4 403.6L1214.4 406.4L1217.0 409.4L1219.4 412.5L1221.8 415.7L1224.2 419.0L1226.4 422.3L1228.6 425.6L1230.8 429.0L1232.9 432.4L1234.9 435.9L1236.9 439.3L1238.8 442.8L1240.7 446.4L1242.5 449.9L1244.3 453.5L1246.0 457.2L1247.6 460.8L1249.3 464.4L1250.8 468.1L1252.4 471.8L1253.8 475.5L1255.3 479.3L1256.7 483.0L1258.1 486.8L1259.4 490.5L1260.7 494.3L1262.0 498.1L1263.3 501.9L1264.5 505.7L1265.7 509.5L1266.9 513.3L1268.1 517.1L1269.3 521.0L1270.4 524.8L1271.6 528.6L1272.7 532.5L1273.8 536.3L1274.9 540.2L1276.0 544.0L1277.1 547.9L1278.2 551.7L1279.3 555.5L1280.5 559.4L1281.6 563.2L1282.7 567.1L1283.8 570.9L1284.9 574.7L1286.1 578.6L1287.2 582.4L1288.3 586.3L1289.5 590.1L1290.6 593.9L1291.7 597.8L1292.9 601.6L1294.0 605.4L1295.2 609.3L1296.3 613.1L1297.5 616.9L1298.6 620.7L1299.8 624.6L1300.9 628.4L1302.1 632.2L1303.3 636.1L1304.4 639.9L1305.6 643.7L1306.8 647.5L1307.9 651.4L1309.1 655.2L1310.3 659.0L1311.5 662.8L1312.7 666.7L1313.9 670.5L1315.0 674.3L1316.2 678.1L1317.4 681.9L1318.6 685.7L1319.8 689.6L1321.0 693.4L1322.2 697.2L1323.4 701.0L1324.6 704.8L1325.9 708.6L1327.1 712.4L1328.3 716.3L1329.5 720.1L1330.7 723.9L1332.0 727.7L1333.2 731.5L1334.4 735.3L1335.6 739.1L1336.9 742.9L1338.1 746.7L1339.4 750.5L1340.6 754.3L1341.8 758.1L1343.1 761.9L1344.3 765.7L1345.6 769.5L1346.9 773.3L1348.1 777.1L1349.4 780.9L1350.6 784.7L1351.9 788.5L1353.2 792.3L1354.4 796.1L1355.7 799.9L1357.0 803.7L1358.3 807.5L1359.5 811.2L1360.8 815.0L1362.1 818.8L1363.4 822.6L1364.7 826.4L1366.0 830.2L1367.3 834.0L1368.6 837.7L1369.9 841.5L1371.2 845.3L1372.5 849.1L1373.8 852.9L1375.1 856.6L1376.4 860.4L1377.8 864.2L1379.1 868.0L1380.4 871.8L1381.7 875.5L1383.1 879.3L1384.4 883.1L1385.7 886.8L1387.1 890.6L1388.4 894.4L1389.7 898.2L1391.1 901.9L1392.4 905.7L1393.8 909.4L1395.1 913.2L1396.5 917.0L1397.9 920.7L1399.3 924.5L1400.8 928.2L1402.2 931.9L1403.7 935.6L1405.3 939.3L1406.8 943.0L1408.4 946.7L1410.1 950.3L1411.8 953.9L1413.5 957.5L1415.3 961.1L1417.2 964.7L1419.1 968.2L1421.0 971.6L1423.1 975.1L1425.2 978.5L1427.3 981.9L1429.5 985.2L1431.8 988.5L1434.1 991.8L1436.4 995.0L1438.8 998.2L1441.3 1001.4L1443.8 1004.5L1446.3 1007.6L1448.8 1010.7L1451.4 1013.8L1454.0 1016.8L1456.7 1019.8L1459.4 1022.8L1462.1 1025.7L1464.8 1028.7L1467.5 1031.6L1470.3 1034.5L1473.0 1037.3L1475.8 1040.2L1478.7 1043.0L1481.5 1045.9L1484.4 1048.7L1487.2 1051.4L1490.1 1054.2L1493.1 1056.9L1496.0 1059.6L1499.0 1062.3L1501.9 1065.0L1505.0 1067.6L1508.0 1070.2L1511.1 1072.8L1514.1 1075.3L1517.2 1077.9L1520.4 1080.4L1523.5 1082.8L1526.7 1085.2L1529.9 1087.6L1533.2 1090.0L1536.4 1092.3L1539.7 1094.6L1543.0 1096.8L1546.4 1099.0L1549.7 1101.2L1553.1 1103.3L1556.5 1105.4L1560.0 1107.4L1563.4 1109.4L1566.9 1111.4L1570.4 1113.3L1574.0 1115.1L1577.5 1117.0L1581.1 1118.8L1584.7 1120.5L1588.3 1122.2L1592.0 1123.9L1595.6 1125.5L1599.3 1127.1L1603.0 1128.6L1606.7 1130.1L1610.4 1131.6L1614.2 1133.0L1617.9 1134.4L1621.7 1135.7L1625.5 1137.0L1629.3 1138.3L1633.1 1139.5L1636.9 1140.7L1640.7 1141.9L1644.6 1143.0L1648.4 1144.1L1652.3 1145.1L1656.2 1146.1L1660.0 1147.1L1663.9 1148.0L1667.8 1148.9L1671.7 1149.8L1675.6 1150.7L1679.6 1151.5L1683.5 1152.2L1687.4 1153.0L1691.3 1153.7L1695.3 1154.3L1699.2 1155.0L1703.2 1155.6L1707.1 1156.2L1711.1 1156.7L1715.1 1157.2L1719.0 1157.7L1723.0 1158.2L1727.0 1158.6L1731.0 1159.0L1735.0 1159.4L1739.0 1159.7L1742.9 1160.0L1746.9 1160.3L1750.9 1160.5L1754.9 1160.7L1758.9 1160.9L1762.9 1161.1L1766.9 1161.2L1770.9 1161.3L1774.9 1161.4L1778.9 1161.5"/>
<path stroke="#d2d2d2" stroke-width="8.9" d="M343.1 622.2L346.1 624.7L349.2 627.3L352.2 630.0L355.2 632.6L358.1 635.4L361.0 638.1L363.9 640.9L366.8 643.7L369.6 646.5L372.4 649.4L375.2 652.2L378.0 655.1L380.8 658.0L383.6 660.9L386.3 663.8L389.1 666.7L391.8 669.6L394.6 672.5L397.3 675.4L400.1 678.3L402.9 681.2L405.6 684.1L408.4 687.0L411.2 689.8L414.1 692.7L416.9 695.5L419.7 698.3L422.6 701.1L425.5 703.9L428.5 706.6L431.4 709.3L434.4 711.9L437.5 714.5L440.5 717.1L443.6 719.7L446.8 722.1L450.0 724.6L453.2 726.9L456.5 729.2L459.8 731.5L463.2 733.7L466.6 735.8L470.0 737.8L473.5 739.8L477.0 741.7L480.5 743.6L484.1 745.4L487.7 747.2L491.3 748.9L494.9 750.6L498.6 752.2L502.3 753.8L506.0 755.3L509.7 756.8L513.4 758.2L517.2 759.6L521.0 761.0L524.7 762.3L528.5 763.6L532.3 764.9L536.1 766.1L540.0 767.4L543.8 768.6L547.6 769.7L551.4 770.9L555.3 772.0L559.1 773.2L563.0 774.3L566.8 775.4L570.7 776.5L574.5 777.6L578.4 778.6L582.2 779.7L586.1 780.8L589.9 781.9L593.8 783.0L597.6 784.1L601.5 785.2L605.3 786.3L609.2 787.4L613.0 788.6L616.9 789.8L620.7 790.9L624.5 792.1L628.3 793.4L632.1 794.6L635.9 795.9L639.7 797.2L643.5 798.5L647.3 799.9L651.0 801.3L654.8 802.7L658.5 804.1L662.2 805.6L665.9 807.0L669.7 808.5L673.4 810.0L677.1 811.6L680.8 813.1L684.5 814.6L688.2 816.2L691.9 817.7L695.6 819.2L699.3 820.8L703.0 822.3L706.7 823.8L710.4 825.3L714.1 826.8L717.8 828.3L721.6 829.8L725.3 831.3L729.0 832.7L732.8 834.1L736.5 835.5L740.3 836.8L744.1 838.1L747.9 839.4L751.7 840.7L755.5 841.9L759.3 843.1L763.2 844.2L767.0 845.3L770.9 846.3L774.8 847.3L778.7 848.2L782.6 849.0L786.5 849.8L790.5 850.6L794.4 851.2L798.4 851.8L802.3 852.3L806.3 852.8L810.3 853.2L814.3 853.5L818.3 853.7L822.3 853.8L826.3 853.9L830.3 853.9L834.3 853.8L838.3 853.6L842.3 853.3L846.3 852.9L850.3 852.3L854.2 851.7L858.2 851.0L862.1 850.1L866.0 849.1L869.8 848.0L873.6 846.8L877.3 845.3L881.0 843.8L884.7 842.1L888.2 840.3L891.8 838.4L895.2 836.3L898.6 834.2L901.9 831.9L905.2 829.6L908.4 827.2L911.5 824.7L914.6 822.1L917.6 819.5L920.6 816.8L923.5 814.1L926.4 811.3L929.2 808.5L932.0 805.6L934.8 802.7L937.5 799.8L940.2 796.8L942.8 793.8L945.5 790.8L948.1 787.8L950.7 784.7L953.3 781.7L955.9 778.6L958.4 775.5L960.9 772.4L963.5 769.3L966.0 766.2L968.4 763.0L970.9 759.9L973.4 756.7L975.8 753.5L978.2 750.3L980.6 747.1L983.0 743.9L985.3 740.7L987.7 737.4L990.0 734.2L992.3 730.9L994.6 727.6L996.9 724.3L999.2 721.0L1001.5 717.7L1003.7 714.4L1005.9 711.1L1008.1 707.7L1010.3 704.4L1012.5 701.0L1014.7 697.7L1016.8 694.3L1019.0 690.9L1021.1 687.5L1023.2 684.1L1025.3 680.7L1027.4 677.3L1029.5 673.8L1031.5 670.4L1033.6 667.0L1035.6 663.5L1037.6 660.1L1039.6 656.6L1041.6 653.1L1043.6 649.6L1045.6 646.2L1047.6 642.7L1049.5 639.2L1051.5 635.7L1053.4 632.2L1055.3 628.6L1057.2 625.1L1059.1 621.6L1061.0 618.1L1062.9 614.5L1064.8 611.0L1066.6 607.4L1068.5 603.9L1070.3 600.3L1072.2 596.8L1074.0 593.2L1075.8 589.6L1077.6 586.1L1079.4 582.5L1081.2 578.9L1083.0 575.3L1084.7 571.7L1086.5 568.1L1088.3 564.5L1090.0 560.9L1091.8 557.3L1093.5 553.7L1095.2 550.1L1097.0 546.5L1098.7 542.9L1100.4 539.3L1102.1 535.6L1103.8 532.0L1105.5 528.4L1107.2 524.7L1108.9 521.1L1110.6 517.5L1112.2 513.8L1113.9 510.2L1115.6 506.6L1117.2 502.9L1118.9 499.3L1120.5 495.6L1122.2 492.0L1123.8 488.3L1125.5 484.7L1127.1 481.0L1128.7 477.3L1130.4 473.7L1132.0 470.0L1133.6 466.4L1135.3 462.7L1136.9 459.1L1138.5 455.4L1140.1 451.7L1141.7 448.1L1143.4 444.4L1145.0 440.7L1146.6 437.1L1148.2 433.4L1149.8 429.7L1151.4 426.1L1153.1 422.4L1154.7 418.8L1156.4 415.1L1158.1 411.5L1159.9 407.9L1161.7 404.3L1163.6 400.8L1165.5 397.3L1167.5 393.8L1169.6 390.4L1171.8 387.1L1174.0 383.7L1176.4 380.5L1178.9 377.4L1181.6 374.4L1184.6 371.7L1187.8 369.4L1191.3 367.5L1195.1 366.2L1199.1 365.6L1203.1 365.8L1207.0 366.8L1210.6 368.4L1214.0 370.6L1217.0 373.2L1219.7 376.1L1222.2 379.3L1224.6 382.5L1226.7 385.9L1228.8 389.3L1230.8 392.8L1232.7 396.3L1234.6 399.8L1236.4 403.4L1238.1 407.0L1239.8 410.7L1241.4 414.3L1243.0 418.0L1244.6 421.7L1246.2 425.4L1247.7 429.1L1249.2 432.8L1250.7 436.5L1252.1 440.3L1253.5 444.0L1254.9 447.8L1256.3 451.5L1257.6 455.3L1259.0 459.1L1260.3 462.9L1261.6 466.7L1262.8 470.5L1264.1 474.3L1265.3 478.1L1266.5 481.9L1267.7 485.7L1268.9 489.5L1270.1 493.4L1271.2 497.2L1272.4 501.0L1273.5 504.9L1274.7 508.7L1275.8 512.6L1276.9 516.4L1278.0 520.3L1279.1 524.1L1280.2 528.0L1281.3 531.8L1282.4 535.7L1283.5 539.5L1284.6 543.4L1285.6 547.2L1286.7 551.1L1287.8 554.9L1288.9 558.8L1290.0 562.6L1291.1 566.5L1292.2 570.4L1293.3 574.2L1294.4 578.1L1295.5 581.9L1296.6 585.8L1297.7 589.6L1298.8 593.5L1299.9 597.3L1301.0 601.2L1302.1 605.0L1303.2 608.9L1304.3 612.7L1305.4 616.6L1306.5 620.4L1307.6 624.3L1308.7 628.1L1309.8 632.0L1310.9 635.8L1312.1 639.6L1313.2 643.5L1314.3 647.3L1315.4 651.2L1316.5 655.0L1317.7 658.9L1318.8 662.7L1319.9 666.6L1321.0 670.4L1322.2 674.3L1323.3 678.1L1324.4 681.9L1325.5 685.8L1326.7 689.6L1327.8 693.5L1328.9 697.3L1330.1 701.1L1331.2 705.0L1332.3 708.8L1333.5 712.7L1334.6 716.5L1335.8 720.3L1336.9 724.2L1338.0 728.0L1339.2 731.9L1340.3 735.7L1341.5 739.5L1342.6 743.4L1343.8 747.2L1344.9 751.0L1346.1 754.9L1347.2 758.7L1348.4 762.6L1349.5 766.4L1350.7 770.2L1351.9 774.1L1353.0 777.9L1354.2 781.7L1355.3 785.6L1356.5 789.4L1357.7 793.2L1358.8 797.1L1360.0 800.9L1361.2 804.7L1362.4 808.5L1363.5 812.4L1364.7 816.2L1365.9 820.0L1367.1 823.9L1368.3 827.7L1369.4 831.5L1370.6 835.3L1371.8 839.2L1373.0 843.0L1374.2 846.8L1375.4 850.6L1376.6 854.4L1377.8 858.3L1379.0 862.1L1380.2 865.9L1381.5 869.7L1382.7 873.5L1383.9 877.3L1385.1 881.2L1386.3 885.0L1387.6 888.8L1388.8 892.6L1390.0 896.4L1391.3 900.2L1392.5 904.0L1393.8 907.8L1395.0 911.6L1396.3 915.4L1397.6 919.2L1398.9 923.0L1400.2 926.8L1401.6 930.5L1403.0 934.3L1404.5 938.0L1406.0 941.7L1407.5 945.4L1409.1 949.1L1410.7 952.8L1412.4 956.4L1414.1 960.0L1416.0 963.6L1417.9 967.1L1419.8 970.6L1421.8 974.1L1424.0 977.5L1426.1 980.8L1428.4 984.1L1430.7 987.4L1433.0 990.7L1435.4 993.9L1437.9 997.0L1440.3 1000.2L1442.9 1003.3L1445.4 1006.4L1448.0 1009.4L1450.7 1012.4L1453.3 1015.4L1456.0 1018.4L1458.7 1021.4L1461.4 1024.3L1464.1 1027.3L1466.9 1030.2L1469.6 1033.1L1472.4 1036.0L1475.1 1038.9L1477.9 1041.8L1480.7 1044.7L1483.5 1047.5L1486.3 1050.4L1489.1 1053.2L1492.0 1056.0L1494.8 1058.8L1497.7 1061.6L1500.6 1064.4L1503.5 1067.2L1506.4 1069.9L1509.4 1072.6L1512.4 1075.3L1515.4 1077.9L1518.4 1080.6L1521.4 1083.2L1524.5 1085.7L1527.6 1088.3L1530.7 1090.8L1533.9 1093.3L1537.0 1095.7L1540.3 1098.1L1543.5 1100.5L1546.8 1102.8L1550.1 1105.0L1553.4 1107.3L1556.7 1109.4L1560.1 1111.6L1563.6 1113.7L1567.0 1115.7L1570.5 1117.7L1574.0 1119.6L1577.5 1121.5L1581.1 1123.4L1584.7 1125.2L1588.3 1126.9L1591.9 1128.6L1595.5 1130.3L1599.2 1131.9L1602.9 1133.5L1606.6 1135.0L1610.3 1136.5L1614.0 1138.0L1617.8 1139.4L1621.5 1140.8L1625.3 1142.1L1629.1 1143.4L1632.9 1144.6L1636.7 1145.8L1640.5 1147.0L1644.4 1148.1L1648.2 1149.2L1652.1 1150.3L1656.0 1151.3L1659.9 1152.3L1663.7 1153.2L1667.6 1154.2L1671.6 1155.0L1675.5 1155.9L1679.4 1156.7L1683.3 1157.5L1687.3 1158.2L1691.2 1158.9L1695.1 1159.6L1699.1 1160.3L1703.0 1160.9L1707.0 1161.5L1711.0 1162.0L1714.9 1162.6L1718.9 1163.1L1722.9 1163.5L1726.9 1164.0L1730.9 1164.4L1734.8 1164.8L1738.8 1165.2L1742.8 1165.5L1746.8 1165.8L1750.8 1166.1L1754.8 1166.4L1758.8 1166.6L1762.8 1166.8L1766.8 1167.0L1770.8 1167.1L1774.8 1167.3L1778.8 1167.4"/>
<path stroke="#900000" stroke-width="8.7" d="M342.7 494.8L344.8 498.2L347.0 501.6L349.1 505.0L351.2 508.4L353.2 511.8L355.3 515.2L357.4 518.7L359.4 522.1L361.5 525.5L363.6 529.0L365.6 532.4L367.7 535.9L369.7 539.3L371.8 542.7L373.8 546.2L375.9 549.6L378.0 553.0L380.1 556.4L382.2 559.8L384.3 563.2L386.5 566.6L388.6 570.0L390.8 573.3L393.0 576.7L395.2 580.0L397.4 583.3L399.7 586.6L402.0 589.9L404.3 593.2L406.6 596.4L409.0 599.7L411.4 602.8L413.9 606.0L416.4 609.2L418.9 612.3L421.5 615.3L424.1 618.4L426.7 621.4L429.4 624.4L432.1 627.3L434.9 630.2L437.7 633.0L440.6 635.8L443.5 638.5L446.5 641.2L449.5 643.8L452.6 646.4L455.7 648.9L458.9 651.4L462.1 653.7L465.4 656.1L468.7 658.3L472.0 660.6L475.4 662.7L478.8 664.8L482.2 666.9L485.6 668.9L489.1 670.9L492.6 672.9L496.1 674.8L499.7 676.6L503.2 678.5L506.8 680.3L510.4 682.1L514.0 683.8L517.6 685.6L521.2 687.3L524.8 689.0L528.5 690.7L532.1 692.3L535.8 694.0L539.4 695.6L543.1 697.2L546.7 698.8L550.4 700.4L554.1 702.0L557.8 703.6L561.5 705.1L565.2 706.7L568.9 708.2L572.6 709.7L576.3 711.2L580.0 712.7L583.7 714.2L587.4 715.7L591.2 717.2L594.9 718.6L598.6 720.1L602.3 721.6L606.1 723.0L609.8 724.5L613.5 725.9L617.3 727.4L621.0 728.8L624.7 730.3L628.5 731.7L632.2 733.2L635.9 734.6L639.7 736.1L643.4 737.5L647.1 739.0L650.8 740.5L654.6 741.9L658.3 743.4L662.0 744.9L665.7 746.4L669.4 747.9L673.2 749.3L676.9 750.8L680.6 752.3L684.3 753.8L688.0 755.3L691.7 756.9L695.4 758.4L699.1 759.9L702.8 761.4L706.5 762.9L710.2 764.5L713.9 766.0L717.6 767.6L721.3 769.1L725.0 770.7L728.7 772.2L732.4 773.8L736.1 775.4L739.7 776.9L743.4 778.5L747.1 780.1L750.8 781.7L754.4 783.3L758.1 784.9L761.8 786.5L765.4 788.1L769.1 789.7L772.8 791.3L776.5 792.9L780.1 794.4L783.9 796.0L787.6 797.4L791.4 798.8L795.1 800.0L799.0 801.2L802.8 802.3L806.7 803.2L810.7 804.0L814.6 804.5L818.6 805.0L822.6 805.2L826.6 805.2L830.6 805.1L834.6 804.8L838.6 804.4L842.6 803.9L846.5 803.3L850.5 802.6L854.4 801.9L858.3 801.1L862.2 800.2L866.1 799.3L870.0 798.2L873.8 797.0L877.6 795.8L881.4 794.4L885.1 792.9L888.7 791.2L892.3 789.4L895.7 787.4L899.1 785.3L902.5 783.0L905.7 780.7L908.8 778.2L911.9 775.6L914.9 772.9L917.8 770.2L920.6 767.4L923.4 764.5L926.1 761.5L928.7 758.5L931.4 755.5L933.9 752.4L936.4 749.3L938.9 746.1L941.4 743.0L943.8 739.8L946.2 736.6L948.6 733.4L951.0 730.2L953.4 727.0L955.8 723.7L958.1 720.5L960.5 717.3L962.8 714.0L965.2 710.8L967.5 707.5L969.8 704.2L972.1 701.0L974.4 697.7L976.7 694.4L979.0 691.1L981.2 687.8L983.5 684.5L985.7 681.2L988.0 677.9L990.2 674.5L992.4 671.2L994.6 667.8L996.8 664.5L999.0 661.1L1001.1 657.8L1003.3 654.4L1005.4 651.0L1007.6 647.6L1009.7 644.2L1011.8 640.8L1013.9 637.4L1016.0 634.0L1018.0 630.6L1020.1 627.1L1022.2 623.7L1024.2 620.3L1026.2 616.8L1028.2 613.3L1030.2 609.9L1032.2 606.4L1034.2 602.9L1036.1 599.4L1038.1 595.9L1040.0 592.4L1041.9 588.9L1043.9 585.4L1045.7 581.8L1047.6 578.3L1049.5 574.8L1051.3 571.2L1053.2 567.7L1055.0 564.1L1056.8 560.5L1058.6 557.0L1060.4 553.4L1062.2 549.8L1063.9 546.2L1065.7 542.6L1067.4 539.0L1069.1 535.4L1070.8 531.7L1072.5 528.1L1074.2 524.5L1075.9 520.8L1077.5 517.2L1079.2 513.5L1080.8 509.9L1082.5 506.2L1084.1 502.6L1085.7 498.9L1087.3 495.2L1088.9 491.6L1090.5 487.9L1092.1 484.2L1093.7 480.5L1095.2 476.9L1096.8 473.2L1098.3 469.5L1099.9 465.8L1101.5 462.1L1103.0 458.4L1104.5 454.7L1106.1 451.0L1107.6 447.3L1109.1 443.6L1110.7 439.9L1112.2 436.2L1113.7 432.5L1115.3 428.8L1116.8 425.1L1118.3 421.4L1119.8 417.7L1121.4 414.0L1122.9 410.3L1124.4 406.6L1125.9 402.9L1127.5 399.2L1129.0 395.5L1130.6 391.8L1132.1 388.1L1133.6 384.4L1135.2 380.7L1136.8 377.0L1138.3 373.4L1139.9 369.7L1141.5 366.0L1143.0 362.3L1144.6 358.6L1146.2 355.0L1147.8 351.3L1149.4 347.6L1151.1 344.0L1152.7 340.3L1154.3 336.7L1156.0 333.0L1157.6 329.4L1159.3 325.7L1161.0 322.1L1162.7 318.5L1164.4 314.9L1166.2 311.3L1168.0 307.7L1169.9 304.2L1171.8 300.7L1173.8 297.2L1175.9 293.8L1178.1 290.4L1180.4 287.1L1182.8 284.0L1185.5 281.0L1188.6 278.5L1192.2 276.8L1196.1 275.8L1200.1 275.7L1204.1 276.1L1207.9 277.2L1211.5 279.0L1214.8 281.3L1217.7 284.1L1220.2 287.2L1222.4 290.5L1224.4 294.0L1226.2 297.5L1227.9 301.2L1229.6 304.8L1231.3 308.4L1233.0 312.1L1234.7 315.7L1236.4 319.3L1238.1 322.9L1239.8 326.6L1241.5 330.2L1243.1 333.8L1244.8 337.5L1246.4 341.1L1248.0 344.8L1249.6 348.5L1251.1 352.2L1252.6 355.9L1254.0 359.6L1255.5 363.4L1256.8 367.1L1258.2 370.9L1259.5 374.7L1260.8 378.5L1262.1 382.3L1263.3 386.1L1264.5 389.9L1265.7 393.7L1266.9 397.6L1268.0 401.4L1269.2 405.2L1270.3 409.1L1271.4 412.9L1272.4 416.8L1273.5 420.7L1274.5 424.5L1275.5 428.4L1276.5 432.3L1277.5 436.2L1278.5 440.0L1279.5 443.9L1280.4 447.8L1281.4 451.7L1282.4 455.6L1283.3 459.5L1284.2 463.4L1285.2 467.3L1286.1 471.1L1287.1 475.0L1288.0 478.9L1288.9 482.8L1289.9 486.7L1290.8 490.6L1291.8 494.5L1292.7 498.4L1293.7 502.3L1294.7 506.2L1295.6 510.0L1296.6 513.9L1297.6 517.8L1298.6 521.7L1299.6 525.6L1300.6 529.4L1301.6 533.3L1302.6 537.2L1303.7 541.1L1304.7 544.9L1305.7 548.8L1306.7 552.7L1307.8 556.5L1308.8 560.4L1309.9 564.3L1310.9 568.1L1312.0 572.0L1313.0 575.9L1314.1 579.7L1315.1 583.6L1316.2 587.4L1317.2 591.3L1318.3 595.2L1319.3 599.0L1320.4 602.9L1321.4 606.8L1322.5 610.6L1323.6 614.5L1324.6 618.3L1325.7 622.2L1326.7 626.1L1327.8 629.9L1328.8 633.8L1329.9 637.7L1330.9 641.5L1331.9 645.4L1333.0 649.3L1334.0 653.1L1335.0 657.0L1336.0 660.9L1337.1 664.7L1338.1 668.6L1339.1 672.5L1340.1 676.4L1341.1 680.2L1342.1 684.1L1343.1 688.0L1344.0 691.9L1345.0 695.8L1346.0 699.7L1346.9 703.6L1347.9 707.4L1348.8 711.3L1349.7 715.2L1350.7 719.1L1351.6 723.0L1352.5 726.9L1353.4 730.8L1354.4 734.7L1355.3 738.6L1356.2 742.5L1357.1 746.4L1358.0 750.3L1358.9 754.2L1359.8 758.1L1360.8 762.0L1361.7 765.9L1362.6 769.8L1363.5 773.7L1364.5 777.6L1365.4 781.5L1366.4 785.4L1367.3 789.2L1368.3 793.1L1369.2 797.0L1370.2 800.9L1371.2 804.8L1372.2 808.7L1373.2 812.5L1374.2 816.4L1375.2 820.3L1376.3 824.1L1377.3 828.0L1378.4 831.9L1379.5 835.7L1380.6 839.6L1381.7 843.4L1382.8 847.3L1384.0 851.1L1385.1 854.9L1386.3 858.7L1387.5 862.6L1388.7 866.4L1390.0 870.2L1391.2 874.0L1392.5 877.8L1393.8 881.6L1395.1 885.4L1396.4 889.1L1397.8 892.9L1399.2 896.7L1400.6 900.4L1402.0 904.1L1403.5 907.9L1404.9 911.6L1406.4 915.3L1408.0 919.0L1409.5 922.7L1411.1 926.4L1412.7 930.1L1414.3 933.7L1416.0 937.4L1417.6 941.0L1419.4 944.6L1421.1 948.2L1422.8 951.8L1424.6 955.4L1426.5 959.0L1428.3 962.5L1430.2 966.1L1432.1 969.6L1434.0 973.1L1436.0 976.6L1438.0 980.0L1440.1 983.5L1442.1 986.9L1444.2 990.3L1446.4 993.7L1448.5 997.1L1450.7 1000.4L1452.9 1003.7L1455.2 1007.0L1457.5 1010.3L1459.8 1013.6L1462.2 1016.8L1464.6 1020.0L1467.0 1023.2L1469.5 1026.4L1472.0 1029.5L1474.5 1032.6L1477.1 1035.7L1479.7 1038.7L1482.3 1041.7L1485.0 1044.7L1487.7 1047.7L1490.4 1050.6L1493.2 1053.5L1496.0 1056.4L1498.8 1059.2L1501.6 1062.1L1504.5 1064.8L1507.4 1067.6L1510.3 1070.3L1513.3 1073.1L1516.2 1075.7L1519.2 1078.4L1522.3 1081.0L1525.3 1083.6L1528.4 1086.1L1531.5 1088.7L1534.6 1091.2L1537.8 1093.6L1541.0 1096.0L1544.2 1098.4L1547.4 1100.8L1550.7 1103.1L1554.0 1105.3L1557.4 1107.5L1560.7 1109.7L1564.1 1111.8L1567.6 1113.9L1571.0 1115.9L1574.5 1117.9L1578.0 1119.8L1581.6 1121.7L1585.1 1123.5L1588.7 1125.3L1592.3 1127.0L1595.9 1128.7L1599.6 1130.4L1603.2 1132.0L1606.9 1133.6L1610.6 1135.1L1614.3 1136.6L1618.1 1138.0L1621.8 1139.4L1625.6 1140.8L1629.4 1142.1L1633.2 1143.4L1637.0 1144.6L1640.8 1145.8L1644.6 1147.0L1648.5 1148.1L1652.3 1149.2L1656.2 1150.2L1660.1 1151.2L1663.9 1152.2L1667.8 1153.2L1671.7 1154.1L1675.6 1155.0L1679.6 1155.8L1683.5 1156.6L1687.4 1157.4L1691.3 1158.2L1695.3 1158.9L1699.2 1159.6L1703.2 1160.2L1707.1 1160.9L1711.1 1161.5L1715.0 1162.0L1719.0 1162.6L1723.0 1163.1L1727.0 1163.6L1730.9 1164.0L1734.9 1164.5L1738.9 1164.9L1742.9 1165.3L1746.9 1165.6L1750.9 1166.0L1754.8 1166.3L1758.8 1166.6L1762.8 1166.8L1766.8 1167.1L1770.8 1167.3L1774.8 1167.5L1778.8 1167.7"/>
<path stroke="#008000" stroke-width="9" d="M343.3 366.6L346.3 369.2L349.0 372.1L351.5 375.3L353.8 378.5L355.9 381.9L357.9 385.4L359.7 389.0L361.4 392.7L363.0 396.3L364.5 400.0L366.1 403.7L367.6 407.4L369.2 411.1L370.8 414.7L372.5 418.3L374.3 421.9L376.2 425.5L378.0 429.0L380.0 432.6L381.9 436.1L383.9 439.5L385.9 443.0L387.9 446.5L389.9 450.0L391.9 453.4L393.8 456.9L395.8 460.4L397.8 463.9L399.7 467.4L401.6 470.9L403.6 474.4L405.5 477.9L407.4 481.4L409.4 484.9L411.3 488.4L413.2 491.9L415.2 495.4L417.1 498.9L419.1 502.4L421.1 505.9L423.1 509.4L425.1 512.8L427.2 516.2L429.3 519.7L431.4 523.1L433.5 526.5L435.7 529.8L437.9 533.2L440.1 536.5L442.4 539.8L444.7 543.1L447.1 546.3L449.5 549.5L451.9 552.7L454.4 555.8L457.0 558.9L459.6 561.9L462.2 564.9L464.9 567.9L467.7 570.8L470.4 573.7L473.3 576.5L476.2 579.3L479.1 582.1L482.0 584.7L485.1 587.4L488.1 590.0L491.2 592.5L494.4 595.0L497.6 597.4L500.8 599.8L504.1 602.1L507.4 604.3L510.7 606.5L514.1 608.6L517.6 610.7L521.0 612.7L524.5 614.6L528.1 616.5L531.6 618.3L535.2 620.1L538.9 621.8L542.5 623.5L546.1 625.1L549.8 626.7L553.5 628.3L557.2 629.8L560.9 631.3L564.7 632.8L568.4 634.2L572.1 635.6L575.9 637.0L579.6 638.4L583.4 639.8L587.1 641.2L590.9 642.6L594.7 644.0L598.4 645.4L602.2 646.8L605.9 648.2L609.7 649.6L613.4 651.0L617.1 652.5L620.9 653.9L624.6 655.4L628.3 657.0L632.0 658.6L635.6 660.2L639.3 661.8L642.9 663.5L646.5 665.2L650.1 667.0L653.7 668.8L657.2 670.7L660.8 672.6L664.3 674.5L667.8 676.4L671.3 678.4L674.7 680.4L678.2 682.4L681.6 684.4L685.1 686.5L688.5 688.6L691.9 690.6L695.4 692.7L698.8 694.8L702.2 696.9L705.6 699.0L709.0 701.1L712.4 703.2L715.8 705.3L719.3 707.4L722.7 709.5L726.1 711.5L729.5 713.6L733.0 715.6L736.5 717.6L739.9 719.6L743.4 721.6L746.9 723.5L750.4 725.5L754.0 727.3L757.5 729.2L761.1 731.0L764.7 732.8L768.3 734.5L771.9 736.2L775.6 737.8L779.3 739.4L783.0 740.9L786.7 742.4L790.4 743.8L794.2 745.2L798.0 746.5L801.8 747.7L805.6 748.9L809.5 749.9L813.4 751.0L817.3 751.9L821.2 752.7L825.1 753.5L829.0 754.2L833.0 754.8L837.0 755.3L841.0 755.7L845.0 756.0L849.0 756.2L853.0 756.3L857.0 756.2L861.0 756.0L865.0 755.6L868.9 755.1L872.9 754.4L876.8 753.6L880.6 752.5L884.4 751.2L888.2 749.8L891.8 748.1L895.3 746.2L898.7 744.1L902.0 741.8L905.2 739.4L908.3 736.9L911.4 734.3L914.3 731.5L917.2 728.8L920.0 725.9L922.8 723.1L925.6 720.2L928.3 717.3L931.1 714.3L933.8 711.4L936.4 708.4L939.1 705.4L941.8 702.4L944.4 699.4L947.0 696.4L949.6 693.3L952.2 690.2L954.7 687.2L957.3 684.1L959.8 681.0L962.3 677.8L964.8 674.7L967.3 671.5L969.7 668.4L972.2 665.2L974.6 662.0L977.0 658.8L979.4 655.6L981.7 652.3L984.1 649.1L986.4 645.8L988.7 642.6L991.0 639.3L993.3 636.0L995.5 632.7L997.8 629.3L1000.0 626.0L1002.2 622.7L1004.4 619.3L1006.5 615.9L1008.7 612.6L1010.8 609.2L1012.9 605.8L1015.0 602.4L1017.1 599.0L1019.2 595.5L1021.3 592.1L1023.3 588.6L1025.3 585.2L1027.3 581.7L1029.3 578.2L1031.3 574.8L1033.2 571.3L1035.2 567.8L1037.1 564.3L1039.0 560.7L1040.9 557.2L1042.8 553.7L1044.7 550.1L1046.5 546.6L1048.4 543.0L1050.2 539.5L1052.0 535.9L1053.8 532.3L1055.6 528.7L1057.4 525.1L1059.1 521.5L1060.9 517.9L1062.6 514.3L1064.3 510.7L1066.0 507.1L1067.7 503.5L1069.4 499.8L1071.1 496.2L1072.7 492.5L1074.4 488.9L1076.0 485.2L1077.6 481.6L1079.2 477.9L1080.8 474.2L1082.4 470.5L1084.0 466.9L1085.6 463.2L1087.1 459.5L1088.7 455.8L1090.2 452.1L1091.7 448.4L1093.3 444.7L1094.8 441.0L1096.3 437.3L1097.8 433.6L1099.2 429.8L1100.7 426.1L1102.2 422.4L1103.7 418.7L1105.2 414.9L1106.6 411.2L1108.1 407.5L1109.6 403.8L1111.0 400.0L1112.5 396.3L1114.0 392.6L1115.5 388.9L1116.9 385.2L1118.4 381.4L1119.9 377.7L1121.4 374.0L1122.9 370.3L1124.4 366.6L1126.0 362.9L1127.5 359.2L1129.1 355.5L1130.6 351.8L1132.2 348.1L1133.8 344.4L1135.4 340.8L1137.0 337.1L1138.6 333.5L1140.3 329.8L1142.0 326.2L1143.6 322.5L1145.4 318.9L1147.1 315.3L1148.8 311.7L1150.6 308.1L1152.4 304.5L1154.2 301.0L1156.0 297.4L1157.8 293.8L1159.6 290.2L1161.4 286.6L1163.2 283.0L1164.9 279.4L1166.7 275.8L1168.4 272.2L1170.0 268.6L1171.8 265.0L1173.6 261.4L1175.5 257.9L1177.6 254.5L1179.9 251.2L1182.5 248.2L1185.5 245.5L1188.8 243.3L1192.4 241.6L1196.3 240.4L1200.2 239.9L1204.2 240.1L1208.1 241.0L1211.7 242.8L1214.9 245.2L1217.8 248.0L1220.4 251.0L1222.9 254.2L1225.2 257.5L1227.3 260.9L1229.3 264.3L1231.2 267.9L1232.9 271.5L1234.7 275.1L1236.3 278.7L1237.9 282.4L1239.5 286.1L1241.1 289.8L1242.6 293.5L1244.0 297.2L1245.5 300.9L1246.9 304.7L1248.2 308.5L1249.6 312.2L1250.9 316.0L1252.2 319.8L1253.4 323.6L1254.7 327.4L1255.9 331.2L1257.1 335.0L1258.3 338.9L1259.5 342.7L1260.7 346.5L1261.8 350.4L1263.0 354.2L1264.1 358.0L1265.3 361.9L1266.4 365.7L1267.6 369.5L1268.7 373.4L1269.8 377.2L1270.9 381.1L1272.0 384.9L1273.1 388.8L1274.2 392.6L1275.3 396.5L1276.4 400.3L1277.5 404.2L1278.6 408.0L1279.7 411.9L1280.7 415.8L1281.8 419.6L1282.9 423.5L1283.9 427.3L1285.0 431.2L1286.0 435.1L1287.0 438.9L1288.1 442.8L1289.1 446.7L1290.1 450.6L1291.2 454.4L1292.2 458.3L1293.2 462.2L1294.2 466.0L1295.2 469.9L1296.2 473.8L1297.2 477.7L1298.2 481.6L1299.2 485.4L1300.2 489.3L1301.2 493.2L1302.1 497.1L1303.1 501.0L1304.1 504.9L1305.1 508.7L1306.0 512.6L1307.0 516.5L1307.9 520.4L1308.9 524.3L1309.9 528.2L1310.8 532.1L1311.8 536.0L1312.7 539.9L1313.6 543.7L1314.6 547.6L1315.5 551.5L1316.5 555.4L1317.4 559.3L1318.3 563.2L1319.3 567.1L1320.2 571.0L1321.1 574.9L1322.0 578.8L1323.0 582.7L1323.9 586.6L1324.8 590.5L1325.7 594.4L1326.6 598.3L1327.6 602.2L1328.5 606.1L1329.4 610.0L1330.3 613.9L1331.2 617.8L1332.1 621.7L1333.0 625.6L1333.9 629.5L1334.8 633.4L1335.8 637.3L1336.7 641.2L1337.6 645.1L1338.5 649.0L1339.4 652.9L1340.3 656.8L1341.2 660.7L1342.1 664.6L1343.0 668.5L1343.9 672.4L1344.8 676.3L1345.7 680.2L1346.6 684.1L1347.5 688.0L1348.4 691.9L1349.3 695.8L1350.3 699.7L1351.2 703.6L1352.1 707.5L1353.0 711.4L1353.9 715.3L1354.8 719.2L1355.7 723.1L1356.6 727.0L1357.6 730.9L1358.5 734.8L1359.4 738.7L1360.3 742.6L1361.2 746.5L1362.2 750.4L1363.1 754.3L1364.0 758.2L1364.9 762.1L1365.9 766.0L1366.8 769.9L1367.7 773.8L1368.7 777.6L1369.6 781.5L1370.6 785.4L1371.5 789.3L1372.5 793.2L1373.4 797.1L1374.4 801.0L1375.3 804.9L1376.3 808.8L1377.3 812.7L1378.2 816.5L1379.2 820.4L1380.2 824.3L1381.2 828.2L1382.2 832.1L1383.2 835.9L1384.2 839.8L1385.2 843.7L1386.3 847.6L1387.3 851.4L1388.4 855.3L1389.5 859.1L1390.6 863.0L1391.7 866.8L1392.8 870.7L1393.9 874.5L1395.1 878.3L1396.3 882.2L1397.5 886.0L1398.7 889.8L1399.9 893.6L1401.2 897.4L1402.5 901.2L1403.8 905.0L1405.1 908.8L1406.5 912.5L1407.9 916.3L1409.3 920.0L1410.7 923.8L1412.2 927.5L1413.7 931.2L1415.2 934.9L1416.8 938.6L1418.3 942.3L1419.9 946.0L1421.6 949.6L1423.3 953.3L1425.0 956.9L1426.7 960.5L1428.5 964.1L1430.3 967.6L1432.2 971.2L1434.1 974.7L1436.0 978.2L1438.0 981.7L1440.0 985.2L1442.0 988.6L1444.1 992.1L1446.2 995.5L1448.3 998.8L1450.5 1002.2L1452.7 1005.5L1455.0 1008.8L1457.3 1012.1L1459.6 1015.4L1462.0 1018.6L1464.4 1021.8L1466.8 1025.0L1469.3 1028.2L1471.8 1031.3L1474.3 1034.4L1476.9 1037.5L1479.5 1040.5L1482.1 1043.5L1484.7 1046.5L1487.4 1049.5L1490.2 1052.4L1492.9 1055.4L1495.7 1058.2L1498.5 1061.1L1501.3 1063.9L1504.2 1066.7L1507.1 1069.5L1510.0 1072.2L1513.0 1074.9L1516.0 1077.6L1519.0 1080.2L1522.0 1082.8L1525.1 1085.4L1528.2 1088.0L1531.3 1090.5L1534.5 1092.9L1537.6 1095.4L1540.8 1097.8L1544.1 1100.1L1547.3 1102.4L1550.6 1104.7L1554.0 1107.0L1557.3 1109.1L1560.7 1111.3L1564.1 1113.4L1567.5 1115.5L1571.0 1117.5L1574.5 1119.4L1578.0 1121.3L1581.5 1123.2L1585.1 1125.0L1588.7 1126.8L1592.3 1128.5L1596.0 1130.2L1599.6 1131.8L1603.3 1133.4L1607.0 1135.0L1610.7 1136.5L1614.4 1137.9L1618.2 1139.3L1621.9 1140.7L1625.7 1142.1L1629.5 1143.4L1633.3 1144.6L1637.1 1145.9L1640.9 1147.1L1644.8 1148.2L1648.6 1149.3L1652.5 1150.4L1656.3 1151.5L1660.2 1152.5L1664.1 1153.5L1668.0 1154.4L1671.9 1155.3L1675.8 1156.2L1679.7 1157.0L1683.6 1157.8L1687.6 1158.6L1691.5 1159.4L1695.4 1160.1L1699.4 1160.8L1703.3 1161.4L1707.3 1162.0L1711.2 1162.6L1715.2 1163.2L1719.2 1163.7L1723.2 1164.2L1727.1 1164.7L1731.1 1165.2L1735.1 1165.6L1739.1 1166.0L1743.1 1166.4L1747.1 1166.7L1751.0 1167.0L1755.0 1167.3L1759.0 1167.6L1763.0 1167.8L1767.0 1168.1L1771.0 1168.3L1775.0 1168.5L1779.0 1168.6"/>
</g>
<rect x="1431" y="179" width="488" height="678" fill="#fff" stroke="#000" stroke-width="4"/>
<g fill="none" stroke-linecap="round">
<line x1="1460" y1="244.0" x2="1605.4" y2="244.0" stroke="#000000" stroke-width="8.2"/>
<line x1="1460" y1="323.0" x2="1605.4" y2="323.0" stroke="#0000ff" stroke-width="4"/>
<line x1="1460" y1="400.4" x2="1605.4" y2="400.4" stroke="#ff0000" stroke-width="9"/>
<line x1="1460" y1="479.0" x2="1605.4" y2="479.0" stroke="#00ff00" stroke-width="8"/>
<line x1="1460" y1="557.0" x2="1605.4" y2="557.0" stroke="#ff00ff" stroke-width="8"/>
<line x1="1460" y1="635.4" x2="1605.4" y2="635.4" stroke="#d2d2d2" stroke-width="8.9"/>
<line x1="1460" y1="713.6" x2="1605.4" y2="713.6" stroke="#900000" stroke-width="8.7"/>
<line x1="1460" y1="792.3" x2="1605.4" y2="792.3" stroke="#008000" stroke-width="9"/>
</g>
<text transform="translate(1641.8 265.9) scale(1 1.02)">5 min</text>
<text transform="translate(1641.8 344.2) scale(1 1.02)">40 min</text>
<text transform="translate(1641.8 422.5) scale(1 1.02)">60 min</text>
<text transform="translate(1641.8 500.8) scale(1 1.02)">90 min</text>
<text transform="translate(1641.8 579.1) scale(1 1.02)">120 min</text>
<text transform="translate(1641.8 657.4) scale(1 1.02)">150 min</text>
<text transform="translate(1641.8 735.7) scale(1 1.02)">180 min</text>
<text transform="translate(1641.8 814.0) scale(1 1.02)">240 min</text>
<text x="20.5" y="1433.6" font-size="84" fill="#0000ff">B</text>
<g stroke="#000" stroke-width="4" fill="none">
<rect x="349" y="1505" width="1436" height="1035"/>
<line x1="332.5" y1="2445" x2="349" y2="2445"/>
<line x1="332.5" y1="2341" x2="349" y2="2341"/>
<line x1="332.5" y1="2236" x2="349" y2="2236"/>
<line x1="332.5" y1="2132" x2="349" y2="2132"/>
<line x1="332.5" y1="2027" x2="349" y2="2027"/>
<line x1="332.5" y1="1923" x2="349" y2="1923"/>
<line x1="332.5" y1="1818" x2="349" y2="1818"/>
<line x1="332.5" y1="1714" x2="349" y2="1714"/>
<line x1="332.5" y1="1609" x2="349" y2="1609"/>
<line x1="332.5" y1="1505" x2="349" y2="1505"/>
<line x1="376" y1="2540" x2="376" y2="2556"/>
<line x1="647" y1="2540" x2="647" y2="2556"/>
<line x1="918" y1="2540" x2="918" y2="2556"/>
<line x1="1189" y1="2540" x2="1189" y2="2556"/>
<line x1="1460" y1="2540" x2="1460" y2="2556"/>
<line x1="1731" y1="2540" x2="1731" y2="2556"/>
</g>
<text transform="translate(302.2 2467.1) scale(1 1.045)" text-anchor="end">0.0</text>
<text transform="translate(302.2 2362.7) scale(1 1.045)" text-anchor="end">0.2</text>
<text transform="translate(302.2 2258.2) scale(1 1.045)" text-anchor="end">0.4</text>
<text transform="translate(302.2 2153.8) scale(1 1.045)" text-anchor="end">0.6</text>
<text transform="translate(302.2 2049.3) scale(1 1.045)" text-anchor="end">0.8</text>
<text transform="translate(302.2 1944.9) scale(1 1.045)" text-anchor="end">1.0</text>
<text transform="translate(302.2 1840.4) scale(1 1.045)" text-anchor="end">1.2</text>
<text transform="translate(302.2 1736.0) scale(1 1.045)" text-anchor="end">1.4</text>
<text transform="translate(302.2 1631.5) scale(1 1.045)" text-anchor="end">1.6</text>
<text transform="translate(302.2 1527.1) scale(1 1.045)" text-anchor="end">1.8</text>
<text transform="translate(375.8 2645.6) scale(1 1.045)" text-anchor="middle">0</text>
<text transform="translate(646.8 2645.6) scale(1 1.045)" text-anchor="middle">50</text>
<text transform="translate(917.8 2645.6) scale(1 1.045)" text-anchor="middle">100</text>
<text transform="translate(1188.8 2645.6) scale(1 1.045)" text-anchor="middle">150</text>
<text transform="translate(1459.8 2645.6) scale(1 1.045)" text-anchor="middle">200</text>
<text transform="translate(1730.8 2645.6) scale(1 1.045)" text-anchor="middle">250</text>
<text x="1068" y="2753.4" text-anchor="middle">t (min)</text>
<text transform="translate(164 2022.0) rotate(-90) scale(1 1.03)" text-anchor="middle">A610nm</text>
<circle cx="403.0" cy="2435.9" r="22"/>
<circle cx="592.6" cy="2363.5" r="22"/>
<circle cx="700.9" cy="2174.1" r="22"/>
<circle cx="863.8" cy="1963.2" r="22"/>
<circle cx="1026.2" cy="1726.2" r="22"/>
<circle cx="1188.8" cy="1695.9" r="22"/>
<circle cx="1351.3" cy="1614.9" r="22"/>
<circle cx="1676.4" cy="1581.9" r="22"/>
</svg>
</body></html>
